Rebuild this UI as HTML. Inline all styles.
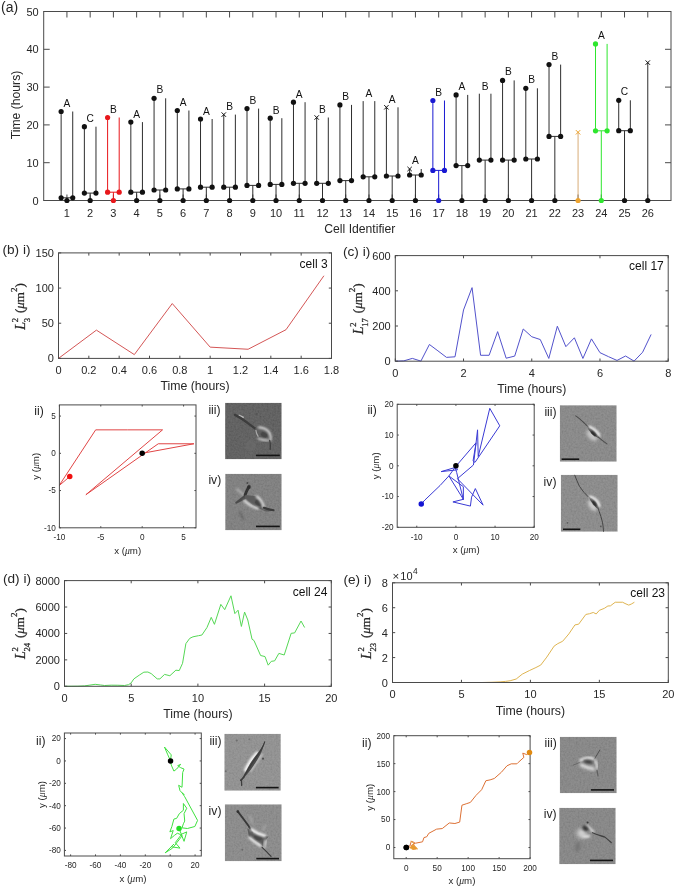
<!DOCTYPE html>
<html><head><meta charset="utf-8"><title>figure</title><style>html,body{margin:0;padding:0;background:#fff;width:675px;height:887px;overflow:hidden;}svg{display:block;will-change:transform;}</style></head><body>
<svg width="675" height="887" viewBox="0 0 675 887">
<defs><filter id="b1" x="-50%" y="-50%" width="200%" height="200%"><feGaussianBlur stdDeviation="0.9"/></filter><filter id="b05" x="-50%" y="-50%" width="200%" height="200%"><feGaussianBlur stdDeviation="0.6"/></filter><filter id="b15" x="-50%" y="-50%" width="200%" height="200%"><feGaussianBlur stdDeviation="1.4"/></filter><filter id="b2" x="-50%" y="-50%" width="200%" height="200%"><feGaussianBlur stdDeviation="2.0"/></filter><filter id="noise" x="0" y="0" width="100%" height="100%"><feTurbulence type="fractalNoise" baseFrequency="0.55" numOctaves="2" seed="3"/><feColorMatrix type="matrix" values="1 0 0 0 0  1 0 0 0 0  1 0 0 0 0  0 0 0 0 1"/></filter></defs>
<rect width="675" height="887" fill="#ffffff"/>
<text x="1" y="11.8" font-size="14" text-anchor="start" font-family='"Liberation Sans", sans-serif' fill="#262626" >(a)</text>
<line x1="66.93" y1="200.5" x2="66.93" y2="194.5" stroke="#4a4a4a" stroke-width="1.0" />
<line x1="66.93" y1="11.5" x2="66.93" y2="17.5" stroke="#4a4a4a" stroke-width="1.0" />
<line x1="90.17" y1="200.5" x2="90.17" y2="194.5" stroke="#4a4a4a" stroke-width="1.0" />
<line x1="90.17" y1="11.5" x2="90.17" y2="17.5" stroke="#4a4a4a" stroke-width="1.0" />
<line x1="113.4" y1="200.5" x2="113.4" y2="194.5" stroke="#4a4a4a" stroke-width="1.0" />
<line x1="113.4" y1="11.5" x2="113.4" y2="17.5" stroke="#4a4a4a" stroke-width="1.0" />
<line x1="136.63" y1="200.5" x2="136.63" y2="194.5" stroke="#4a4a4a" stroke-width="1.0" />
<line x1="136.63" y1="11.5" x2="136.63" y2="17.5" stroke="#4a4a4a" stroke-width="1.0" />
<line x1="159.87" y1="200.5" x2="159.87" y2="194.5" stroke="#4a4a4a" stroke-width="1.0" />
<line x1="159.87" y1="11.5" x2="159.87" y2="17.5" stroke="#4a4a4a" stroke-width="1.0" />
<line x1="183.1" y1="200.5" x2="183.1" y2="194.5" stroke="#4a4a4a" stroke-width="1.0" />
<line x1="183.1" y1="11.5" x2="183.1" y2="17.5" stroke="#4a4a4a" stroke-width="1.0" />
<line x1="206.33" y1="200.5" x2="206.33" y2="194.5" stroke="#4a4a4a" stroke-width="1.0" />
<line x1="206.33" y1="11.5" x2="206.33" y2="17.5" stroke="#4a4a4a" stroke-width="1.0" />
<line x1="229.57" y1="200.5" x2="229.57" y2="194.5" stroke="#4a4a4a" stroke-width="1.0" />
<line x1="229.57" y1="11.5" x2="229.57" y2="17.5" stroke="#4a4a4a" stroke-width="1.0" />
<line x1="252.8" y1="200.5" x2="252.8" y2="194.5" stroke="#4a4a4a" stroke-width="1.0" />
<line x1="252.8" y1="11.5" x2="252.8" y2="17.5" stroke="#4a4a4a" stroke-width="1.0" />
<line x1="276.03" y1="200.5" x2="276.03" y2="194.5" stroke="#4a4a4a" stroke-width="1.0" />
<line x1="276.03" y1="11.5" x2="276.03" y2="17.5" stroke="#4a4a4a" stroke-width="1.0" />
<line x1="299.27" y1="200.5" x2="299.27" y2="194.5" stroke="#4a4a4a" stroke-width="1.0" />
<line x1="299.27" y1="11.5" x2="299.27" y2="17.5" stroke="#4a4a4a" stroke-width="1.0" />
<line x1="322.5" y1="200.5" x2="322.5" y2="194.5" stroke="#4a4a4a" stroke-width="1.0" />
<line x1="322.5" y1="11.5" x2="322.5" y2="17.5" stroke="#4a4a4a" stroke-width="1.0" />
<line x1="345.73" y1="200.5" x2="345.73" y2="194.5" stroke="#4a4a4a" stroke-width="1.0" />
<line x1="345.73" y1="11.5" x2="345.73" y2="17.5" stroke="#4a4a4a" stroke-width="1.0" />
<line x1="368.97" y1="200.5" x2="368.97" y2="194.5" stroke="#4a4a4a" stroke-width="1.0" />
<line x1="368.97" y1="11.5" x2="368.97" y2="17.5" stroke="#4a4a4a" stroke-width="1.0" />
<line x1="392.2" y1="200.5" x2="392.2" y2="194.5" stroke="#4a4a4a" stroke-width="1.0" />
<line x1="392.2" y1="11.5" x2="392.2" y2="17.5" stroke="#4a4a4a" stroke-width="1.0" />
<line x1="415.43" y1="200.5" x2="415.43" y2="194.5" stroke="#4a4a4a" stroke-width="1.0" />
<line x1="415.43" y1="11.5" x2="415.43" y2="17.5" stroke="#4a4a4a" stroke-width="1.0" />
<line x1="438.67" y1="200.5" x2="438.67" y2="194.5" stroke="#4a4a4a" stroke-width="1.0" />
<line x1="438.67" y1="11.5" x2="438.67" y2="17.5" stroke="#4a4a4a" stroke-width="1.0" />
<line x1="461.9" y1="200.5" x2="461.9" y2="194.5" stroke="#4a4a4a" stroke-width="1.0" />
<line x1="461.9" y1="11.5" x2="461.9" y2="17.5" stroke="#4a4a4a" stroke-width="1.0" />
<line x1="485.13" y1="200.5" x2="485.13" y2="194.5" stroke="#4a4a4a" stroke-width="1.0" />
<line x1="485.13" y1="11.5" x2="485.13" y2="17.5" stroke="#4a4a4a" stroke-width="1.0" />
<line x1="508.37" y1="200.5" x2="508.37" y2="194.5" stroke="#4a4a4a" stroke-width="1.0" />
<line x1="508.37" y1="11.5" x2="508.37" y2="17.5" stroke="#4a4a4a" stroke-width="1.0" />
<line x1="531.6" y1="200.5" x2="531.6" y2="194.5" stroke="#4a4a4a" stroke-width="1.0" />
<line x1="531.6" y1="11.5" x2="531.6" y2="17.5" stroke="#4a4a4a" stroke-width="1.0" />
<line x1="554.83" y1="200.5" x2="554.83" y2="194.5" stroke="#4a4a4a" stroke-width="1.0" />
<line x1="554.83" y1="11.5" x2="554.83" y2="17.5" stroke="#4a4a4a" stroke-width="1.0" />
<line x1="578.07" y1="200.5" x2="578.07" y2="194.5" stroke="#4a4a4a" stroke-width="1.0" />
<line x1="578.07" y1="11.5" x2="578.07" y2="17.5" stroke="#4a4a4a" stroke-width="1.0" />
<line x1="601.3" y1="200.5" x2="601.3" y2="194.5" stroke="#4a4a4a" stroke-width="1.0" />
<line x1="601.3" y1="11.5" x2="601.3" y2="17.5" stroke="#4a4a4a" stroke-width="1.0" />
<line x1="624.53" y1="200.5" x2="624.53" y2="194.5" stroke="#4a4a4a" stroke-width="1.0" />
<line x1="624.53" y1="11.5" x2="624.53" y2="17.5" stroke="#4a4a4a" stroke-width="1.0" />
<line x1="647.77" y1="200.5" x2="647.77" y2="194.5" stroke="#4a4a4a" stroke-width="1.0" />
<line x1="647.77" y1="11.5" x2="647.77" y2="17.5" stroke="#4a4a4a" stroke-width="1.0" />
<line x1="43.7" y1="200.5" x2="49.7" y2="200.5" stroke="#4a4a4a" stroke-width="1.0" />
<line x1="671" y1="200.5" x2="665" y2="200.5" stroke="#4a4a4a" stroke-width="1.0" />
<line x1="43.7" y1="162.7" x2="49.7" y2="162.7" stroke="#4a4a4a" stroke-width="1.0" />
<line x1="671" y1="162.7" x2="665" y2="162.7" stroke="#4a4a4a" stroke-width="1.0" />
<line x1="43.7" y1="124.9" x2="49.7" y2="124.9" stroke="#4a4a4a" stroke-width="1.0" />
<line x1="671" y1="124.9" x2="665" y2="124.9" stroke="#4a4a4a" stroke-width="1.0" />
<line x1="43.7" y1="87.1" x2="49.7" y2="87.1" stroke="#4a4a4a" stroke-width="1.0" />
<line x1="671" y1="87.1" x2="665" y2="87.1" stroke="#4a4a4a" stroke-width="1.0" />
<line x1="43.7" y1="49.3" x2="49.7" y2="49.3" stroke="#4a4a4a" stroke-width="1.0" />
<line x1="671" y1="49.3" x2="665" y2="49.3" stroke="#4a4a4a" stroke-width="1.0" />
<line x1="43.7" y1="11.5" x2="49.7" y2="11.5" stroke="#4a4a4a" stroke-width="1.0" />
<line x1="671" y1="11.5" x2="665" y2="11.5" stroke="#4a4a4a" stroke-width="1.0" />
<rect x="43.7" y="11.5" width="627.3" height="189" fill="none" stroke="#4a4a4a" stroke-width="1.0"/>
<text x="66.93" y="216.6" font-size="11" text-anchor="middle" font-family='"Liberation Sans", sans-serif' fill="#262626" >1</text>
<text x="90.17" y="216.6" font-size="11" text-anchor="middle" font-family='"Liberation Sans", sans-serif' fill="#262626" >2</text>
<text x="113.4" y="216.6" font-size="11" text-anchor="middle" font-family='"Liberation Sans", sans-serif' fill="#262626" >3</text>
<text x="136.63" y="216.6" font-size="11" text-anchor="middle" font-family='"Liberation Sans", sans-serif' fill="#262626" >4</text>
<text x="159.87" y="216.6" font-size="11" text-anchor="middle" font-family='"Liberation Sans", sans-serif' fill="#262626" >5</text>
<text x="183.1" y="216.6" font-size="11" text-anchor="middle" font-family='"Liberation Sans", sans-serif' fill="#262626" >6</text>
<text x="206.33" y="216.6" font-size="11" text-anchor="middle" font-family='"Liberation Sans", sans-serif' fill="#262626" >7</text>
<text x="229.57" y="216.6" font-size="11" text-anchor="middle" font-family='"Liberation Sans", sans-serif' fill="#262626" >8</text>
<text x="252.8" y="216.6" font-size="11" text-anchor="middle" font-family='"Liberation Sans", sans-serif' fill="#262626" >9</text>
<text x="276.03" y="216.6" font-size="11" text-anchor="middle" font-family='"Liberation Sans", sans-serif' fill="#262626" >10</text>
<text x="299.27" y="216.6" font-size="11" text-anchor="middle" font-family='"Liberation Sans", sans-serif' fill="#262626" >11</text>
<text x="322.5" y="216.6" font-size="11" text-anchor="middle" font-family='"Liberation Sans", sans-serif' fill="#262626" >12</text>
<text x="345.73" y="216.6" font-size="11" text-anchor="middle" font-family='"Liberation Sans", sans-serif' fill="#262626" >13</text>
<text x="368.97" y="216.6" font-size="11" text-anchor="middle" font-family='"Liberation Sans", sans-serif' fill="#262626" >14</text>
<text x="392.2" y="216.6" font-size="11" text-anchor="middle" font-family='"Liberation Sans", sans-serif' fill="#262626" >15</text>
<text x="415.43" y="216.6" font-size="11" text-anchor="middle" font-family='"Liberation Sans", sans-serif' fill="#262626" >16</text>
<text x="438.67" y="216.6" font-size="11" text-anchor="middle" font-family='"Liberation Sans", sans-serif' fill="#262626" >17</text>
<text x="461.9" y="216.6" font-size="11" text-anchor="middle" font-family='"Liberation Sans", sans-serif' fill="#262626" >18</text>
<text x="485.13" y="216.6" font-size="11" text-anchor="middle" font-family='"Liberation Sans", sans-serif' fill="#262626" >19</text>
<text x="508.37" y="216.6" font-size="11" text-anchor="middle" font-family='"Liberation Sans", sans-serif' fill="#262626" >20</text>
<text x="531.6" y="216.6" font-size="11" text-anchor="middle" font-family='"Liberation Sans", sans-serif' fill="#262626" >21</text>
<text x="554.83" y="216.6" font-size="11" text-anchor="middle" font-family='"Liberation Sans", sans-serif' fill="#262626" >22</text>
<text x="578.07" y="216.6" font-size="11" text-anchor="middle" font-family='"Liberation Sans", sans-serif' fill="#262626" >23</text>
<text x="601.3" y="216.6" font-size="11" text-anchor="middle" font-family='"Liberation Sans", sans-serif' fill="#262626" >24</text>
<text x="624.53" y="216.6" font-size="11" text-anchor="middle" font-family='"Liberation Sans", sans-serif' fill="#262626" >25</text>
<text x="647.77" y="216.6" font-size="11" text-anchor="middle" font-family='"Liberation Sans", sans-serif' fill="#262626" >26</text>
<text x="38.7" y="204.5" font-size="11" text-anchor="end" font-family='"Liberation Sans", sans-serif' fill="#262626" >0</text>
<text x="38.7" y="166.7" font-size="11" text-anchor="end" font-family='"Liberation Sans", sans-serif' fill="#262626" >10</text>
<text x="38.7" y="128.9" font-size="11" text-anchor="end" font-family='"Liberation Sans", sans-serif' fill="#262626" >20</text>
<text x="38.7" y="91.1" font-size="11" text-anchor="end" font-family='"Liberation Sans", sans-serif' fill="#262626" >30</text>
<text x="38.7" y="53.3" font-size="11" text-anchor="end" font-family='"Liberation Sans", sans-serif' fill="#262626" >40</text>
<text x="38.7" y="15.5" font-size="11" text-anchor="end" font-family='"Liberation Sans", sans-serif' fill="#262626" >50</text>
<text x="359.85" y="232.8" font-size="12.2" text-anchor="middle" font-family='"Liberation Sans", sans-serif' fill="#262626" >Cell Identifier</text>
<text transform="translate(19.8,105) rotate(-90)" x="0" y="0" font-size="12.2" text-anchor="middle" font-family='"Liberation Sans", sans-serif' fill="#262626">Time (hours)</text>
<line x1="66.93" y1="200.5" x2="66.93" y2="197.8" stroke="#2e2e2e" stroke-width="1.0" />
<line x1="61.13" y1="197.8" x2="72.73" y2="197.8" stroke="#2e2e2e" stroke-width="1.0" />
<line x1="61.13" y1="197.8" x2="61.13" y2="111.5" stroke="#2e2e2e" stroke-width="1.0" />
<line x1="72.73" y1="197.8" x2="72.73" y2="111.5" stroke="#2e2e2e" stroke-width="1.0" />
<circle cx="66.93" cy="200.5" r="2.6" fill="#111111"/>
<circle cx="61.13" cy="197.8" r="2.6" fill="#111111"/>
<circle cx="72.73" cy="197.8" r="2.6" fill="#111111"/>
<circle cx="61.13" cy="111.5" r="2.6" fill="#111111"/>
<text x="66.93" y="107" font-size="10.2" text-anchor="middle" font-family='"Liberation Sans", sans-serif' fill="#111111" >A</text>
<line x1="90.17" y1="200.5" x2="90.17" y2="193.1" stroke="#2e2e2e" stroke-width="1.0" />
<line x1="84.37" y1="193.1" x2="95.97" y2="193.1" stroke="#2e2e2e" stroke-width="1.0" />
<line x1="84.37" y1="193.1" x2="84.37" y2="126.7" stroke="#2e2e2e" stroke-width="1.0" />
<line x1="95.97" y1="193.1" x2="95.97" y2="126.7" stroke="#2e2e2e" stroke-width="1.0" />
<circle cx="90.17" cy="200.5" r="2.6" fill="#111111"/>
<circle cx="84.37" cy="193.1" r="2.6" fill="#111111"/>
<circle cx="95.97" cy="193.1" r="2.6" fill="#111111"/>
<circle cx="84.37" cy="126.7" r="2.6" fill="#111111"/>
<text x="90.17" y="121.8" font-size="10.2" text-anchor="middle" font-family='"Liberation Sans", sans-serif' fill="#111111" >C</text>
<line x1="113.4" y1="200.5" x2="113.4" y2="192.2" stroke="#e8171b" stroke-width="1.0" />
<line x1="107.6" y1="192.2" x2="119.2" y2="192.2" stroke="#e8171b" stroke-width="1.0" />
<line x1="107.6" y1="192.2" x2="107.6" y2="117.5" stroke="#e8171b" stroke-width="1.0" />
<line x1="119.2" y1="192.2" x2="119.2" y2="117.5" stroke="#e8171b" stroke-width="1.0" />
<circle cx="113.4" cy="200.5" r="2.6" fill="#e8171b"/>
<circle cx="107.6" cy="192.2" r="2.6" fill="#e8171b"/>
<circle cx="119.2" cy="192.2" r="2.6" fill="#e8171b"/>
<circle cx="107.6" cy="117.5" r="2.6" fill="#e8171b"/>
<text x="113.4" y="112.8" font-size="10.2" text-anchor="middle" font-family='"Liberation Sans", sans-serif' fill="#111111" >B</text>
<line x1="136.63" y1="200.5" x2="136.63" y2="192.2" stroke="#2e2e2e" stroke-width="1.0" />
<line x1="130.83" y1="192.2" x2="142.43" y2="192.2" stroke="#2e2e2e" stroke-width="1.0" />
<line x1="130.83" y1="192.2" x2="130.83" y2="122.1" stroke="#2e2e2e" stroke-width="1.0" />
<line x1="142.43" y1="192.2" x2="142.43" y2="122.1" stroke="#2e2e2e" stroke-width="1.0" />
<circle cx="136.63" cy="200.5" r="2.6" fill="#111111"/>
<circle cx="130.83" cy="192.2" r="2.6" fill="#111111"/>
<circle cx="142.43" cy="192.2" r="2.6" fill="#111111"/>
<circle cx="130.83" cy="122.1" r="2.6" fill="#111111"/>
<text x="136.63" y="117.6" font-size="10.2" text-anchor="middle" font-family='"Liberation Sans", sans-serif' fill="#111111" >A</text>
<line x1="159.87" y1="200.5" x2="159.87" y2="190" stroke="#2e2e2e" stroke-width="1.0" />
<line x1="154.07" y1="190" x2="165.67" y2="190" stroke="#2e2e2e" stroke-width="1.0" />
<line x1="154.07" y1="190" x2="154.07" y2="98.3" stroke="#2e2e2e" stroke-width="1.0" />
<line x1="165.67" y1="190" x2="165.67" y2="98.3" stroke="#2e2e2e" stroke-width="1.0" />
<circle cx="159.87" cy="200.5" r="2.6" fill="#111111"/>
<circle cx="154.07" cy="190" r="2.6" fill="#111111"/>
<circle cx="165.67" cy="190" r="2.6" fill="#111111"/>
<circle cx="154.07" cy="98.3" r="2.6" fill="#111111"/>
<text x="159.87" y="93" font-size="10.2" text-anchor="middle" font-family='"Liberation Sans", sans-serif' fill="#111111" >B</text>
<line x1="183.1" y1="200.5" x2="183.1" y2="188.9" stroke="#2e2e2e" stroke-width="1.0" />
<line x1="177.3" y1="188.9" x2="188.9" y2="188.9" stroke="#2e2e2e" stroke-width="1.0" />
<line x1="177.3" y1="188.9" x2="177.3" y2="110.5" stroke="#2e2e2e" stroke-width="1.0" />
<line x1="188.9" y1="188.9" x2="188.9" y2="110.5" stroke="#2e2e2e" stroke-width="1.0" />
<circle cx="183.1" cy="200.5" r="2.6" fill="#111111"/>
<circle cx="177.3" cy="188.9" r="2.6" fill="#111111"/>
<circle cx="188.9" cy="188.9" r="2.6" fill="#111111"/>
<circle cx="177.3" cy="110.5" r="2.6" fill="#111111"/>
<text x="183.1" y="105.8" font-size="10.2" text-anchor="middle" font-family='"Liberation Sans", sans-serif' fill="#111111" >A</text>
<line x1="206.33" y1="200.5" x2="206.33" y2="187.2" stroke="#2e2e2e" stroke-width="1.0" />
<line x1="200.53" y1="187.2" x2="212.13" y2="187.2" stroke="#2e2e2e" stroke-width="1.0" />
<line x1="200.53" y1="187.2" x2="200.53" y2="119" stroke="#2e2e2e" stroke-width="1.0" />
<line x1="212.13" y1="187.2" x2="212.13" y2="119" stroke="#2e2e2e" stroke-width="1.0" />
<circle cx="206.33" cy="200.5" r="2.6" fill="#111111"/>
<circle cx="200.53" cy="187.2" r="2.6" fill="#111111"/>
<circle cx="212.13" cy="187.2" r="2.6" fill="#111111"/>
<circle cx="200.53" cy="119" r="2.6" fill="#111111"/>
<text x="206.33" y="114.8" font-size="10.2" text-anchor="middle" font-family='"Liberation Sans", sans-serif' fill="#111111" >A</text>
<line x1="229.57" y1="200.5" x2="229.57" y2="187.2" stroke="#2e2e2e" stroke-width="1.0" />
<line x1="223.77" y1="187.2" x2="235.37" y2="187.2" stroke="#2e2e2e" stroke-width="1.0" />
<line x1="223.77" y1="187.2" x2="223.77" y2="114.6" stroke="#2e2e2e" stroke-width="1.0" />
<line x1="235.37" y1="187.2" x2="235.37" y2="114.6" stroke="#2e2e2e" stroke-width="1.0" />
<circle cx="229.57" cy="200.5" r="2.6" fill="#111111"/>
<circle cx="223.77" cy="187.2" r="2.6" fill="#111111"/>
<circle cx="235.37" cy="187.2" r="2.6" fill="#111111"/>
<line x1="221.57" y1="112.4" x2="225.97" y2="116.8" stroke="#111111" stroke-width="1.0" />
<line x1="221.57" y1="116.8" x2="225.97" y2="112.4" stroke="#111111" stroke-width="1.0" />
<text x="229.57" y="110" font-size="10.2" text-anchor="middle" font-family='"Liberation Sans", sans-serif' fill="#111111" >B</text>
<line x1="252.8" y1="200.5" x2="252.8" y2="185.4" stroke="#2e2e2e" stroke-width="1.0" />
<line x1="247" y1="185.4" x2="258.6" y2="185.4" stroke="#2e2e2e" stroke-width="1.0" />
<line x1="247" y1="185.4" x2="247" y2="108.6" stroke="#2e2e2e" stroke-width="1.0" />
<line x1="258.6" y1="185.4" x2="258.6" y2="108.6" stroke="#2e2e2e" stroke-width="1.0" />
<circle cx="252.8" cy="200.5" r="2.6" fill="#111111"/>
<circle cx="247" cy="185.4" r="2.6" fill="#111111"/>
<circle cx="258.6" cy="185.4" r="2.6" fill="#111111"/>
<circle cx="247" cy="108.6" r="2.6" fill="#111111"/>
<text x="252.8" y="104" font-size="10.2" text-anchor="middle" font-family='"Liberation Sans", sans-serif' fill="#111111" >B</text>
<line x1="276.03" y1="200.5" x2="276.03" y2="184.4" stroke="#2e2e2e" stroke-width="1.0" />
<line x1="270.23" y1="184.4" x2="281.83" y2="184.4" stroke="#2e2e2e" stroke-width="1.0" />
<line x1="270.23" y1="184.4" x2="270.23" y2="118.2" stroke="#2e2e2e" stroke-width="1.0" />
<line x1="281.83" y1="184.4" x2="281.83" y2="118.2" stroke="#2e2e2e" stroke-width="1.0" />
<circle cx="276.03" cy="200.5" r="2.6" fill="#111111"/>
<circle cx="270.23" cy="184.4" r="2.6" fill="#111111"/>
<circle cx="281.83" cy="184.4" r="2.6" fill="#111111"/>
<circle cx="270.23" cy="118.2" r="2.6" fill="#111111"/>
<text x="276.03" y="113.6" font-size="10.2" text-anchor="middle" font-family='"Liberation Sans", sans-serif' fill="#111111" >B</text>
<line x1="299.27" y1="200.5" x2="299.27" y2="183.3" stroke="#2e2e2e" stroke-width="1.0" />
<line x1="293.47" y1="183.3" x2="305.07" y2="183.3" stroke="#2e2e2e" stroke-width="1.0" />
<line x1="293.47" y1="183.3" x2="293.47" y2="102.2" stroke="#2e2e2e" stroke-width="1.0" />
<line x1="305.07" y1="183.3" x2="305.07" y2="102.2" stroke="#2e2e2e" stroke-width="1.0" />
<circle cx="299.27" cy="200.5" r="2.6" fill="#111111"/>
<circle cx="293.47" cy="183.3" r="2.6" fill="#111111"/>
<circle cx="305.07" cy="183.3" r="2.6" fill="#111111"/>
<circle cx="293.47" cy="102.2" r="2.6" fill="#111111"/>
<text x="299.27" y="97.6" font-size="10.2" text-anchor="middle" font-family='"Liberation Sans", sans-serif' fill="#111111" >A</text>
<line x1="322.5" y1="200.5" x2="322.5" y2="183.3" stroke="#2e2e2e" stroke-width="1.0" />
<line x1="316.7" y1="183.3" x2="328.3" y2="183.3" stroke="#2e2e2e" stroke-width="1.0" />
<line x1="316.7" y1="183.3" x2="316.7" y2="117.5" stroke="#2e2e2e" stroke-width="1.0" />
<line x1="328.3" y1="183.3" x2="328.3" y2="117.5" stroke="#2e2e2e" stroke-width="1.0" />
<circle cx="322.5" cy="200.5" r="2.6" fill="#111111"/>
<circle cx="316.7" cy="183.3" r="2.6" fill="#111111"/>
<circle cx="328.3" cy="183.3" r="2.6" fill="#111111"/>
<line x1="314.5" y1="115.3" x2="318.9" y2="119.7" stroke="#111111" stroke-width="1.0" />
<line x1="314.5" y1="119.7" x2="318.9" y2="115.3" stroke="#111111" stroke-width="1.0" />
<text x="322.5" y="112.8" font-size="10.2" text-anchor="middle" font-family='"Liberation Sans", sans-serif' fill="#111111" >B</text>
<line x1="345.73" y1="200.5" x2="345.73" y2="180.6" stroke="#2e2e2e" stroke-width="1.0" />
<line x1="339.93" y1="180.6" x2="351.53" y2="180.6" stroke="#2e2e2e" stroke-width="1.0" />
<line x1="339.93" y1="180.6" x2="339.93" y2="104.9" stroke="#2e2e2e" stroke-width="1.0" />
<line x1="351.53" y1="180.6" x2="351.53" y2="104.9" stroke="#2e2e2e" stroke-width="1.0" />
<circle cx="345.73" cy="200.5" r="2.6" fill="#111111"/>
<circle cx="339.93" cy="180.6" r="2.6" fill="#111111"/>
<circle cx="351.53" cy="180.6" r="2.6" fill="#111111"/>
<circle cx="339.93" cy="104.9" r="2.6" fill="#111111"/>
<text x="345.73" y="100.4" font-size="10.2" text-anchor="middle" font-family='"Liberation Sans", sans-serif' fill="#111111" >B</text>
<line x1="368.97" y1="200.5" x2="368.97" y2="176.8" stroke="#2e2e2e" stroke-width="1.0" />
<line x1="363.17" y1="176.8" x2="374.77" y2="176.8" stroke="#2e2e2e" stroke-width="1.0" />
<line x1="363.17" y1="176.8" x2="363.17" y2="101.1" stroke="#2e2e2e" stroke-width="1.0" />
<line x1="374.77" y1="176.8" x2="374.77" y2="101.1" stroke="#2e2e2e" stroke-width="1.0" />
<circle cx="368.97" cy="200.5" r="2.6" fill="#111111"/>
<circle cx="363.17" cy="176.8" r="2.6" fill="#111111"/>
<circle cx="374.77" cy="176.8" r="2.6" fill="#111111"/>
<text x="368.97" y="97" font-size="10.2" text-anchor="middle" font-family='"Liberation Sans", sans-serif' fill="#111111" >A</text>
<line x1="392.2" y1="200.5" x2="392.2" y2="176" stroke="#2e2e2e" stroke-width="1.0" />
<line x1="386.4" y1="176" x2="398" y2="176" stroke="#2e2e2e" stroke-width="1.0" />
<line x1="386.4" y1="176" x2="386.4" y2="107.3" stroke="#2e2e2e" stroke-width="1.0" />
<line x1="398" y1="176" x2="398" y2="107.3" stroke="#2e2e2e" stroke-width="1.0" />
<circle cx="392.2" cy="200.5" r="2.6" fill="#111111"/>
<circle cx="386.4" cy="176" r="2.6" fill="#111111"/>
<circle cx="398" cy="176" r="2.6" fill="#111111"/>
<line x1="384.2" y1="105.1" x2="388.6" y2="109.5" stroke="#111111" stroke-width="1.0" />
<line x1="384.2" y1="109.5" x2="388.6" y2="105.1" stroke="#111111" stroke-width="1.0" />
<text x="392.2" y="102.6" font-size="10.2" text-anchor="middle" font-family='"Liberation Sans", sans-serif' fill="#111111" >A</text>
<line x1="415.43" y1="200.5" x2="415.43" y2="175" stroke="#2e2e2e" stroke-width="1.0" />
<line x1="409.63" y1="175" x2="421.23" y2="175" stroke="#2e2e2e" stroke-width="1.0" />
<line x1="409.63" y1="175" x2="409.63" y2="169" stroke="#2e2e2e" stroke-width="1.0" />
<line x1="421.23" y1="175" x2="421.23" y2="169" stroke="#2e2e2e" stroke-width="1.0" />
<circle cx="415.43" cy="200.5" r="2.6" fill="#111111"/>
<circle cx="409.63" cy="175" r="2.6" fill="#111111"/>
<circle cx="421.23" cy="175" r="2.6" fill="#111111"/>
<line x1="407.43" y1="166.8" x2="411.83" y2="171.2" stroke="#111111" stroke-width="1.0" />
<line x1="407.43" y1="171.2" x2="411.83" y2="166.8" stroke="#111111" stroke-width="1.0" />
<text x="415.43" y="164" font-size="10.2" text-anchor="middle" font-family='"Liberation Sans", sans-serif' fill="#111111" >A</text>
<line x1="438.67" y1="200.5" x2="438.67" y2="170.4" stroke="#1919d2" stroke-width="1.0" />
<line x1="432.87" y1="170.4" x2="444.47" y2="170.4" stroke="#1919d2" stroke-width="1.0" />
<line x1="432.87" y1="170.4" x2="432.87" y2="100.5" stroke="#1919d2" stroke-width="1.0" />
<line x1="444.47" y1="170.4" x2="444.47" y2="100.5" stroke="#1919d2" stroke-width="1.0" />
<circle cx="438.67" cy="200.5" r="2.6" fill="#1919d2"/>
<circle cx="432.87" cy="170.4" r="2.6" fill="#1919d2"/>
<circle cx="444.47" cy="170.4" r="2.6" fill="#1919d2"/>
<circle cx="432.87" cy="100.5" r="2.6" fill="#1919d2"/>
<text x="438.67" y="95.8" font-size="10.2" text-anchor="middle" font-family='"Liberation Sans", sans-serif' fill="#111111" >B</text>
<line x1="461.9" y1="200.5" x2="461.9" y2="165.6" stroke="#2e2e2e" stroke-width="1.0" />
<line x1="456.1" y1="165.6" x2="467.7" y2="165.6" stroke="#2e2e2e" stroke-width="1.0" />
<line x1="456.1" y1="165.6" x2="456.1" y2="94.9" stroke="#2e2e2e" stroke-width="1.0" />
<line x1="467.7" y1="165.6" x2="467.7" y2="94.9" stroke="#2e2e2e" stroke-width="1.0" />
<circle cx="461.9" cy="200.5" r="2.6" fill="#111111"/>
<circle cx="456.1" cy="165.6" r="2.6" fill="#111111"/>
<circle cx="467.7" cy="165.6" r="2.6" fill="#111111"/>
<circle cx="456.1" cy="94.9" r="2.6" fill="#111111"/>
<text x="461.9" y="90.2" font-size="10.2" text-anchor="middle" font-family='"Liberation Sans", sans-serif' fill="#111111" >A</text>
<line x1="485.13" y1="200.5" x2="485.13" y2="160.1" stroke="#2e2e2e" stroke-width="1.0" />
<line x1="479.33" y1="160.1" x2="490.93" y2="160.1" stroke="#2e2e2e" stroke-width="1.0" />
<line x1="479.33" y1="160.1" x2="479.33" y2="93.7" stroke="#2e2e2e" stroke-width="1.0" />
<line x1="490.93" y1="160.1" x2="490.93" y2="93.7" stroke="#2e2e2e" stroke-width="1.0" />
<circle cx="485.13" cy="200.5" r="2.6" fill="#111111"/>
<circle cx="479.33" cy="160.1" r="2.6" fill="#111111"/>
<circle cx="490.93" cy="160.1" r="2.6" fill="#111111"/>
<text x="485.13" y="89.6" font-size="10.2" text-anchor="middle" font-family='"Liberation Sans", sans-serif' fill="#111111" >B</text>
<line x1="508.37" y1="200.5" x2="508.37" y2="160.1" stroke="#2e2e2e" stroke-width="1.0" />
<line x1="502.57" y1="160.1" x2="514.17" y2="160.1" stroke="#2e2e2e" stroke-width="1.0" />
<line x1="502.57" y1="160.1" x2="502.57" y2="80.4" stroke="#2e2e2e" stroke-width="1.0" />
<line x1="514.17" y1="160.1" x2="514.17" y2="80.4" stroke="#2e2e2e" stroke-width="1.0" />
<circle cx="508.37" cy="200.5" r="2.6" fill="#111111"/>
<circle cx="502.57" cy="160.1" r="2.6" fill="#111111"/>
<circle cx="514.17" cy="160.1" r="2.6" fill="#111111"/>
<circle cx="502.57" cy="80.4" r="2.6" fill="#111111"/>
<text x="508.37" y="75.2" font-size="10.2" text-anchor="middle" font-family='"Liberation Sans", sans-serif' fill="#111111" >B</text>
<line x1="531.6" y1="200.5" x2="531.6" y2="159" stroke="#2e2e2e" stroke-width="1.0" />
<line x1="525.8" y1="159" x2="537.4" y2="159" stroke="#2e2e2e" stroke-width="1.0" />
<line x1="525.8" y1="159" x2="525.8" y2="88.3" stroke="#2e2e2e" stroke-width="1.0" />
<line x1="537.4" y1="159" x2="537.4" y2="88.3" stroke="#2e2e2e" stroke-width="1.0" />
<circle cx="531.6" cy="200.5" r="2.6" fill="#111111"/>
<circle cx="525.8" cy="159" r="2.6" fill="#111111"/>
<circle cx="537.4" cy="159" r="2.6" fill="#111111"/>
<circle cx="525.8" cy="88.3" r="2.6" fill="#111111"/>
<text x="531.6" y="83" font-size="10.2" text-anchor="middle" font-family='"Liberation Sans", sans-serif' fill="#111111" >B</text>
<line x1="554.83" y1="200.5" x2="554.83" y2="136.4" stroke="#2e2e2e" stroke-width="1.0" />
<line x1="549.03" y1="136.4" x2="560.63" y2="136.4" stroke="#2e2e2e" stroke-width="1.0" />
<line x1="549.03" y1="136.4" x2="549.03" y2="64.6" stroke="#2e2e2e" stroke-width="1.0" />
<line x1="560.63" y1="136.4" x2="560.63" y2="64.6" stroke="#2e2e2e" stroke-width="1.0" />
<circle cx="554.83" cy="200.5" r="2.6" fill="#111111"/>
<circle cx="549.03" cy="136.4" r="2.6" fill="#111111"/>
<circle cx="560.63" cy="136.4" r="2.6" fill="#111111"/>
<circle cx="549.03" cy="64.6" r="2.6" fill="#111111"/>
<text x="554.83" y="59.6" font-size="10.2" text-anchor="middle" font-family='"Liberation Sans", sans-serif' fill="#111111" >B</text>
<line x1="578.07" y1="200.5" x2="578.07" y2="132.3" stroke="#d8ac78" stroke-width="1.0" />
<line x1="575.87" y1="130.1" x2="580.27" y2="134.5" stroke="#eda32e" stroke-width="1.0" />
<line x1="575.87" y1="134.5" x2="580.27" y2="130.1" stroke="#eda32e" stroke-width="1.0" />
<circle cx="578.07" cy="200.5" r="2.6" fill="#eda32e"/>
<line x1="601.3" y1="200.5" x2="601.3" y2="130.8" stroke="#2ee62e" stroke-width="1.0" />
<line x1="595.5" y1="130.8" x2="607.1" y2="130.8" stroke="#2ee62e" stroke-width="1.0" />
<line x1="595.5" y1="130.8" x2="595.5" y2="43.9" stroke="#2ee62e" stroke-width="1.0" />
<line x1="607.1" y1="130.8" x2="607.1" y2="43.9" stroke="#2ee62e" stroke-width="1.0" />
<circle cx="601.3" cy="200.5" r="2.6" fill="#2ee62e"/>
<circle cx="595.5" cy="130.8" r="2.6" fill="#2ee62e"/>
<circle cx="607.1" cy="130.8" r="2.6" fill="#2ee62e"/>
<circle cx="595.5" cy="43.9" r="2.6" fill="#2ee62e"/>
<text x="601.3" y="38.6" font-size="10.2" text-anchor="middle" font-family='"Liberation Sans", sans-serif' fill="#111111" >A</text>
<line x1="624.53" y1="200.5" x2="624.53" y2="130.7" stroke="#2e2e2e" stroke-width="1.0" />
<line x1="618.73" y1="130.7" x2="630.33" y2="130.7" stroke="#2e2e2e" stroke-width="1.0" />
<line x1="618.73" y1="130.7" x2="618.73" y2="100.3" stroke="#2e2e2e" stroke-width="1.0" />
<line x1="630.33" y1="130.7" x2="630.33" y2="100.3" stroke="#2e2e2e" stroke-width="1.0" />
<circle cx="624.53" cy="200.5" r="2.6" fill="#111111"/>
<circle cx="618.73" cy="130.7" r="2.6" fill="#111111"/>
<circle cx="630.33" cy="130.7" r="2.6" fill="#111111"/>
<circle cx="618.73" cy="100.3" r="2.6" fill="#111111"/>
<text x="624.53" y="95" font-size="10.2" text-anchor="middle" font-family='"Liberation Sans", sans-serif' fill="#111111" >C</text>
<line x1="647.77" y1="200.5" x2="647.77" y2="62.6" stroke="#2e2e2e" stroke-width="1.0" />
<line x1="645.57" y1="60.4" x2="649.97" y2="64.8" stroke="#111111" stroke-width="1.0" />
<line x1="645.57" y1="64.8" x2="649.97" y2="60.4" stroke="#111111" stroke-width="1.0" />
<circle cx="647.77" cy="200.5" r="2.6" fill="#111111"/>
<text x="2.5" y="254.2" font-size="13.6" text-anchor="start" font-family='"Liberation Sans", sans-serif' fill="#262626" >(b) i)</text>
<polyline points="58.5,358.4 96.42,330.13 134.33,354.6 172.25,303.54 210.17,347.15 248.08,349.26 286,329.7 323.92,275.76" fill="none" stroke="#d45656" stroke-width="1.0" stroke-linejoin="miter" stroke-miterlimit="10" />
<line x1="58.5" y1="358.4" x2="58.5" y2="355.7" stroke="#4a4a4a" stroke-width="1.0" />
<line x1="58.5" y1="252.9" x2="58.5" y2="255.6" stroke="#4a4a4a" stroke-width="1.0" />
<line x1="88.83" y1="358.4" x2="88.83" y2="355.7" stroke="#4a4a4a" stroke-width="1.0" />
<line x1="88.83" y1="252.9" x2="88.83" y2="255.6" stroke="#4a4a4a" stroke-width="1.0" />
<line x1="119.17" y1="358.4" x2="119.17" y2="355.7" stroke="#4a4a4a" stroke-width="1.0" />
<line x1="119.17" y1="252.9" x2="119.17" y2="255.6" stroke="#4a4a4a" stroke-width="1.0" />
<line x1="149.5" y1="358.4" x2="149.5" y2="355.7" stroke="#4a4a4a" stroke-width="1.0" />
<line x1="149.5" y1="252.9" x2="149.5" y2="255.6" stroke="#4a4a4a" stroke-width="1.0" />
<line x1="179.83" y1="358.4" x2="179.83" y2="355.7" stroke="#4a4a4a" stroke-width="1.0" />
<line x1="179.83" y1="252.9" x2="179.83" y2="255.6" stroke="#4a4a4a" stroke-width="1.0" />
<line x1="210.17" y1="358.4" x2="210.17" y2="355.7" stroke="#4a4a4a" stroke-width="1.0" />
<line x1="210.17" y1="252.9" x2="210.17" y2="255.6" stroke="#4a4a4a" stroke-width="1.0" />
<line x1="240.5" y1="358.4" x2="240.5" y2="355.7" stroke="#4a4a4a" stroke-width="1.0" />
<line x1="240.5" y1="252.9" x2="240.5" y2="255.6" stroke="#4a4a4a" stroke-width="1.0" />
<line x1="270.83" y1="358.4" x2="270.83" y2="355.7" stroke="#4a4a4a" stroke-width="1.0" />
<line x1="270.83" y1="252.9" x2="270.83" y2="255.6" stroke="#4a4a4a" stroke-width="1.0" />
<line x1="301.17" y1="358.4" x2="301.17" y2="355.7" stroke="#4a4a4a" stroke-width="1.0" />
<line x1="301.17" y1="252.9" x2="301.17" y2="255.6" stroke="#4a4a4a" stroke-width="1.0" />
<line x1="331.5" y1="358.4" x2="331.5" y2="355.7" stroke="#4a4a4a" stroke-width="1.0" />
<line x1="331.5" y1="252.9" x2="331.5" y2="255.6" stroke="#4a4a4a" stroke-width="1.0" />
<line x1="58.5" y1="358.4" x2="61.2" y2="358.4" stroke="#4a4a4a" stroke-width="1.0" />
<line x1="331.5" y1="358.4" x2="328.8" y2="358.4" stroke="#4a4a4a" stroke-width="1.0" />
<line x1="58.5" y1="323.23" x2="61.2" y2="323.23" stroke="#4a4a4a" stroke-width="1.0" />
<line x1="331.5" y1="323.23" x2="328.8" y2="323.23" stroke="#4a4a4a" stroke-width="1.0" />
<line x1="58.5" y1="288.07" x2="61.2" y2="288.07" stroke="#4a4a4a" stroke-width="1.0" />
<line x1="331.5" y1="288.07" x2="328.8" y2="288.07" stroke="#4a4a4a" stroke-width="1.0" />
<line x1="58.5" y1="252.9" x2="61.2" y2="252.9" stroke="#4a4a4a" stroke-width="1.0" />
<line x1="331.5" y1="252.9" x2="328.8" y2="252.9" stroke="#4a4a4a" stroke-width="1.0" />
<rect x="58.5" y="252.9" width="273" height="105.5" fill="none" stroke="#4a4a4a" stroke-width="1.0"/>
<text x="58.5" y="373.9" font-size="11" text-anchor="middle" font-family='"Liberation Sans", sans-serif' fill="#262626" >0</text>
<text x="88.83" y="373.9" font-size="11" text-anchor="middle" font-family='"Liberation Sans", sans-serif' fill="#262626" >0.2</text>
<text x="119.17" y="373.9" font-size="11" text-anchor="middle" font-family='"Liberation Sans", sans-serif' fill="#262626" >0.4</text>
<text x="149.5" y="373.9" font-size="11" text-anchor="middle" font-family='"Liberation Sans", sans-serif' fill="#262626" >0.6</text>
<text x="179.83" y="373.9" font-size="11" text-anchor="middle" font-family='"Liberation Sans", sans-serif' fill="#262626" >0.8</text>
<text x="210.17" y="373.9" font-size="11" text-anchor="middle" font-family='"Liberation Sans", sans-serif' fill="#262626" >1</text>
<text x="240.5" y="373.9" font-size="11" text-anchor="middle" font-family='"Liberation Sans", sans-serif' fill="#262626" >1.2</text>
<text x="270.83" y="373.9" font-size="11" text-anchor="middle" font-family='"Liberation Sans", sans-serif' fill="#262626" >1.4</text>
<text x="301.17" y="373.9" font-size="11" text-anchor="middle" font-family='"Liberation Sans", sans-serif' fill="#262626" >1.6</text>
<text x="331.5" y="373.9" font-size="11" text-anchor="middle" font-family='"Liberation Sans", sans-serif' fill="#262626" >1.8</text>
<text x="53.9" y="362.4" font-size="11" text-anchor="end" font-family='"Liberation Sans", sans-serif' fill="#262626" >0</text>
<text x="53.9" y="327.23" font-size="11" text-anchor="end" font-family='"Liberation Sans", sans-serif' fill="#262626" >50</text>
<text x="53.9" y="292.07" font-size="11" text-anchor="end" font-family='"Liberation Sans", sans-serif' fill="#262626" >100</text>
<text x="53.9" y="256.9" font-size="11" text-anchor="end" font-family='"Liberation Sans", sans-serif' fill="#262626" >150</text>
<text x="327.6" y="267.6" font-size="12" text-anchor="end" font-family='"Liberation Sans", sans-serif' fill="#111111" >cell 3</text>
<text x="195" y="390.1" font-size="12.3" text-anchor="middle" font-family='"Liberation Sans", sans-serif' fill="#262626" >Time (hours)</text>
<text transform="translate(24.9,329.7) rotate(-90)" font-size="14.0" font-family='"Liberation Serif", serif' font-style="italic" fill="#262626" stroke="#262626" stroke-width="0.25" text-anchor="start">L</text>
<text transform="translate(29.7,322.2) rotate(-90)" font-size="8.6" font-family='"Liberation Serif", serif' fill="#262626" stroke="#262626" stroke-width="0.25" text-anchor="start">3</text>
<text transform="translate(17.9,322.2) rotate(-90)" font-size="8.6" font-family='"Liberation Serif", serif' fill="#262626" stroke="#262626" stroke-width="0.25" text-anchor="start">2</text>
<text transform="translate(23.7,313) rotate(-90)" font-size="13" font-family='"Liberation Serif", serif' fill="#262626" stroke="#262626" stroke-width="0.25" text-anchor="start">(<tspan font-style="italic">&#956;</tspan>m<tspan font-size="9" dy="-6.4">2</tspan><tspan dy="6.4">)</tspan></text>
<text x="343" y="256.2" font-size="13.6" text-anchor="start" font-family='"Liberation Sans", sans-serif' fill="#262626" >(c) i)</text>
<polyline points="395.3,361.2 403.83,360.85 412.36,358.4 420.88,361.11 429.41,344.48 437.94,350.87 446.47,357.36 455,356.8 463.53,309.98 472.05,287.63 480.58,355.29 489.11,355.29 497.64,331.63 506.17,358.21 514.69,356.1 523.22,328.99 531.75,336.74 540.28,339.55 548.81,358.44 557.33,326.23 565.86,346.66 574.39,337.79 582.92,358.44 591.45,338.88 599.98,352.66 608.5,356.66 617.03,360.44 625.56,356.01 634.09,361.11 642.62,352.22 651.14,334.45" fill="none" stroke="#5252cc" stroke-width="1.0" stroke-linejoin="miter" stroke-miterlimit="10" />
<line x1="395.3" y1="361.2" x2="395.3" y2="358.5" stroke="#4a4a4a" stroke-width="1.0" />
<line x1="395.3" y1="255.6" x2="395.3" y2="258.3" stroke="#4a4a4a" stroke-width="1.0" />
<line x1="463.53" y1="361.2" x2="463.53" y2="358.5" stroke="#4a4a4a" stroke-width="1.0" />
<line x1="463.53" y1="255.6" x2="463.53" y2="258.3" stroke="#4a4a4a" stroke-width="1.0" />
<line x1="531.75" y1="361.2" x2="531.75" y2="358.5" stroke="#4a4a4a" stroke-width="1.0" />
<line x1="531.75" y1="255.6" x2="531.75" y2="258.3" stroke="#4a4a4a" stroke-width="1.0" />
<line x1="599.98" y1="361.2" x2="599.98" y2="358.5" stroke="#4a4a4a" stroke-width="1.0" />
<line x1="599.98" y1="255.6" x2="599.98" y2="258.3" stroke="#4a4a4a" stroke-width="1.0" />
<line x1="668.2" y1="361.2" x2="668.2" y2="358.5" stroke="#4a4a4a" stroke-width="1.0" />
<line x1="668.2" y1="255.6" x2="668.2" y2="258.3" stroke="#4a4a4a" stroke-width="1.0" />
<line x1="395.3" y1="361.2" x2="398" y2="361.2" stroke="#4a4a4a" stroke-width="1.0" />
<line x1="668.2" y1="361.2" x2="665.5" y2="361.2" stroke="#4a4a4a" stroke-width="1.0" />
<line x1="395.3" y1="326" x2="398" y2="326" stroke="#4a4a4a" stroke-width="1.0" />
<line x1="668.2" y1="326" x2="665.5" y2="326" stroke="#4a4a4a" stroke-width="1.0" />
<line x1="395.3" y1="290.8" x2="398" y2="290.8" stroke="#4a4a4a" stroke-width="1.0" />
<line x1="668.2" y1="290.8" x2="665.5" y2="290.8" stroke="#4a4a4a" stroke-width="1.0" />
<line x1="395.3" y1="255.6" x2="398" y2="255.6" stroke="#4a4a4a" stroke-width="1.0" />
<line x1="668.2" y1="255.6" x2="665.5" y2="255.6" stroke="#4a4a4a" stroke-width="1.0" />
<rect x="395.3" y="255.6" width="272.9" height="105.6" fill="none" stroke="#4a4a4a" stroke-width="1.0"/>
<text x="395.3" y="376.7" font-size="11" text-anchor="middle" font-family='"Liberation Sans", sans-serif' fill="#262626" >0</text>
<text x="463.53" y="376.7" font-size="11" text-anchor="middle" font-family='"Liberation Sans", sans-serif' fill="#262626" >2</text>
<text x="531.75" y="376.7" font-size="11" text-anchor="middle" font-family='"Liberation Sans", sans-serif' fill="#262626" >4</text>
<text x="599.98" y="376.7" font-size="11" text-anchor="middle" font-family='"Liberation Sans", sans-serif' fill="#262626" >6</text>
<text x="668.2" y="376.7" font-size="11" text-anchor="middle" font-family='"Liberation Sans", sans-serif' fill="#262626" >8</text>
<text x="390.7" y="365.2" font-size="11" text-anchor="end" font-family='"Liberation Sans", sans-serif' fill="#262626" >0</text>
<text x="390.7" y="330" font-size="11" text-anchor="end" font-family='"Liberation Sans", sans-serif' fill="#262626" >200</text>
<text x="390.7" y="294.8" font-size="11" text-anchor="end" font-family='"Liberation Sans", sans-serif' fill="#262626" >400</text>
<text x="390.7" y="259.6" font-size="11" text-anchor="end" font-family='"Liberation Sans", sans-serif' fill="#262626" >600</text>
<text x="663.8" y="269.6" font-size="12" text-anchor="end" font-family='"Liberation Sans", sans-serif' fill="#111111" >cell 17</text>
<text x="531.75" y="392.9" font-size="12.3" text-anchor="middle" font-family='"Liberation Sans", sans-serif' fill="#262626" >Time (hours)</text>
<text transform="translate(362.8,334.2) rotate(-90)" font-size="14.0" font-family='"Liberation Serif", serif' font-style="italic" fill="#262626" stroke="#262626" stroke-width="0.25" text-anchor="start">L</text>
<text transform="translate(367.6,326.7) rotate(-90)" font-size="8.6" font-family='"Liberation Serif", serif' fill="#262626" stroke="#262626" stroke-width="0.25" text-anchor="start">17</text>
<text transform="translate(355.8,326.7) rotate(-90)" font-size="8.6" font-family='"Liberation Serif", serif' fill="#262626" stroke="#262626" stroke-width="0.25" text-anchor="start">2</text>
<text transform="translate(361.6,313.2) rotate(-90)" font-size="13" font-family='"Liberation Serif", serif' fill="#262626" stroke="#262626" stroke-width="0.25" text-anchor="start">(<tspan font-style="italic">&#956;</tspan>m<tspan font-size="9" dy="-6.4">2</tspan><tspan dy="6.4">)</tspan></text>
<text x="3" y="582.8" font-size="13.6" text-anchor="start" font-family='"Liberation Sans", sans-serif' fill="#262626" >(d) i)</text>
<polyline points="64.5,686.3 71.17,686.25 77.84,686.19 84.51,685.9 89.85,685.11 95.18,684.32 100.52,684.98 104.52,685.51 111.19,685.18 117.86,685.24 124.53,685.51 128.53,684.71 131.2,682.86 133.87,678.9 139.2,675.2 143.87,672.16 147.88,672.03 151.21,673.62 157.21,678.9 159.88,678.9 164.55,674.41 169.89,675.73 175.89,670.18 179.22,670.58 182.56,663.31 185.89,643.62 189.76,638.34 192.96,636.82 198.43,635.7 201.9,635.04 206.97,627.5 211.24,617.33 214.44,624.33 220.84,604.38 224.71,609.67 230.98,595.79 234.85,613.63 238.05,610.2 241.39,626.45 244.59,612.05 247.79,619.97 252.06,639.26 253.93,640.45 260.6,655.51 265,656.57 268.2,665.16 271.27,661.33 274.61,660.87 278.87,653.4 284.21,654.99 291.15,633.32 294.62,632.92 301.02,621.03 304.62,627.5" fill="none" stroke="#55d855" stroke-width="1.0" stroke-linejoin="miter" stroke-miterlimit="10" />
<line x1="64.5" y1="686.3" x2="64.5" y2="683.6" stroke="#4a4a4a" stroke-width="1.0" />
<line x1="64.5" y1="580.6" x2="64.5" y2="583.3" stroke="#4a4a4a" stroke-width="1.0" />
<line x1="131.2" y1="686.3" x2="131.2" y2="683.6" stroke="#4a4a4a" stroke-width="1.0" />
<line x1="131.2" y1="580.6" x2="131.2" y2="583.3" stroke="#4a4a4a" stroke-width="1.0" />
<line x1="197.9" y1="686.3" x2="197.9" y2="683.6" stroke="#4a4a4a" stroke-width="1.0" />
<line x1="197.9" y1="580.6" x2="197.9" y2="583.3" stroke="#4a4a4a" stroke-width="1.0" />
<line x1="264.6" y1="686.3" x2="264.6" y2="683.6" stroke="#4a4a4a" stroke-width="1.0" />
<line x1="264.6" y1="580.6" x2="264.6" y2="583.3" stroke="#4a4a4a" stroke-width="1.0" />
<line x1="331.3" y1="686.3" x2="331.3" y2="683.6" stroke="#4a4a4a" stroke-width="1.0" />
<line x1="331.3" y1="580.6" x2="331.3" y2="583.3" stroke="#4a4a4a" stroke-width="1.0" />
<line x1="64.5" y1="686.3" x2="67.2" y2="686.3" stroke="#4a4a4a" stroke-width="1.0" />
<line x1="331.3" y1="686.3" x2="328.6" y2="686.3" stroke="#4a4a4a" stroke-width="1.0" />
<line x1="64.5" y1="659.88" x2="67.2" y2="659.88" stroke="#4a4a4a" stroke-width="1.0" />
<line x1="331.3" y1="659.88" x2="328.6" y2="659.88" stroke="#4a4a4a" stroke-width="1.0" />
<line x1="64.5" y1="633.45" x2="67.2" y2="633.45" stroke="#4a4a4a" stroke-width="1.0" />
<line x1="331.3" y1="633.45" x2="328.6" y2="633.45" stroke="#4a4a4a" stroke-width="1.0" />
<line x1="64.5" y1="607.02" x2="67.2" y2="607.02" stroke="#4a4a4a" stroke-width="1.0" />
<line x1="331.3" y1="607.02" x2="328.6" y2="607.02" stroke="#4a4a4a" stroke-width="1.0" />
<line x1="64.5" y1="580.6" x2="67.2" y2="580.6" stroke="#4a4a4a" stroke-width="1.0" />
<line x1="331.3" y1="580.6" x2="328.6" y2="580.6" stroke="#4a4a4a" stroke-width="1.0" />
<rect x="64.5" y="580.6" width="266.8" height="105.7" fill="none" stroke="#4a4a4a" stroke-width="1.0"/>
<text x="64.5" y="701.8" font-size="11" text-anchor="middle" font-family='"Liberation Sans", sans-serif' fill="#262626" >0</text>
<text x="131.2" y="701.8" font-size="11" text-anchor="middle" font-family='"Liberation Sans", sans-serif' fill="#262626" >5</text>
<text x="197.9" y="701.8" font-size="11" text-anchor="middle" font-family='"Liberation Sans", sans-serif' fill="#262626" >10</text>
<text x="264.6" y="701.8" font-size="11" text-anchor="middle" font-family='"Liberation Sans", sans-serif' fill="#262626" >15</text>
<text x="331.3" y="701.8" font-size="11" text-anchor="middle" font-family='"Liberation Sans", sans-serif' fill="#262626" >20</text>
<text x="59.9" y="690.3" font-size="11" text-anchor="end" font-family='"Liberation Sans", sans-serif' fill="#262626" >0</text>
<text x="59.9" y="663.88" font-size="11" text-anchor="end" font-family='"Liberation Sans", sans-serif' fill="#262626" >2000</text>
<text x="59.9" y="637.45" font-size="11" text-anchor="end" font-family='"Liberation Sans", sans-serif' fill="#262626" >4000</text>
<text x="59.9" y="611.02" font-size="11" text-anchor="end" font-family='"Liberation Sans", sans-serif' fill="#262626" >6000</text>
<text x="59.9" y="584.6" font-size="11" text-anchor="end" font-family='"Liberation Sans", sans-serif' fill="#262626" >8000</text>
<text x="327.4" y="595.6" font-size="12" text-anchor="end" font-family='"Liberation Sans", sans-serif' fill="#111111" >cell 24</text>
<text x="197.9" y="718" font-size="12.3" text-anchor="middle" font-family='"Liberation Sans", sans-serif' fill="#262626" >Time (hours)</text>
<text transform="translate(25,659.1) rotate(-90)" font-size="14.0" font-family='"Liberation Serif", serif' font-style="italic" fill="#262626" stroke="#262626" stroke-width="0.25" text-anchor="start">L</text>
<text transform="translate(29.8,651.6) rotate(-90)" font-size="8.6" font-family='"Liberation Serif", serif' fill="#262626" stroke="#262626" stroke-width="0.25" text-anchor="start">24</text>
<text transform="translate(18,651.6) rotate(-90)" font-size="8.6" font-family='"Liberation Serif", serif' fill="#262626" stroke="#262626" stroke-width="0.25" text-anchor="start">2</text>
<text transform="translate(23.8,638.1) rotate(-90)" font-size="13" font-family='"Liberation Serif", serif' fill="#262626" stroke="#262626" stroke-width="0.25" text-anchor="start">(<tspan font-style="italic">&#956;</tspan>m<tspan font-size="9" dy="-6.4">2</tspan><tspan dy="6.4">)</tspan></text>
<text x="343.5" y="583.5" font-size="13.6" text-anchor="start" font-family='"Liberation Sans", sans-serif' fill="#262626" >(e) i)</text>
<polyline points="392.5,682.5 482.13,682.5 491.79,682.25 500.06,681.88 505.58,681.38 510.13,680.76 516.2,679.01 522.26,674.15 529.71,670.41 535.92,667.54 540.74,665.05 546.81,657.08 554.12,646.11 557.84,643.62 562.67,641.25 568.87,633.9 574.94,624.92 578.66,624.18 585.84,614.45 589.56,613.71 593.28,612.46 596.18,613.96 599.35,610.34 604.31,608.35 607.9,605.98 610.38,605.86 615.21,602.24 622.66,602.24 625,603.49 628.72,605.11 631.2,604.11 634.38,602.24" fill="none" stroke="#dfb552" stroke-width="1.0" stroke-linejoin="miter" stroke-miterlimit="10" />
<line x1="392.5" y1="682.5" x2="392.5" y2="679.8" stroke="#4a4a4a" stroke-width="1.0" />
<line x1="392.5" y1="582.8" x2="392.5" y2="585.5" stroke="#4a4a4a" stroke-width="1.0" />
<line x1="461.45" y1="682.5" x2="461.45" y2="679.8" stroke="#4a4a4a" stroke-width="1.0" />
<line x1="461.45" y1="582.8" x2="461.45" y2="585.5" stroke="#4a4a4a" stroke-width="1.0" />
<line x1="530.4" y1="682.5" x2="530.4" y2="679.8" stroke="#4a4a4a" stroke-width="1.0" />
<line x1="530.4" y1="582.8" x2="530.4" y2="585.5" stroke="#4a4a4a" stroke-width="1.0" />
<line x1="599.35" y1="682.5" x2="599.35" y2="679.8" stroke="#4a4a4a" stroke-width="1.0" />
<line x1="599.35" y1="582.8" x2="599.35" y2="585.5" stroke="#4a4a4a" stroke-width="1.0" />
<line x1="668.3" y1="682.5" x2="668.3" y2="679.8" stroke="#4a4a4a" stroke-width="1.0" />
<line x1="668.3" y1="582.8" x2="668.3" y2="585.5" stroke="#4a4a4a" stroke-width="1.0" />
<line x1="392.5" y1="682.5" x2="395.2" y2="682.5" stroke="#4a4a4a" stroke-width="1.0" />
<line x1="668.3" y1="682.5" x2="665.6" y2="682.5" stroke="#4a4a4a" stroke-width="1.0" />
<line x1="392.5" y1="657.58" x2="395.2" y2="657.58" stroke="#4a4a4a" stroke-width="1.0" />
<line x1="668.3" y1="657.58" x2="665.6" y2="657.58" stroke="#4a4a4a" stroke-width="1.0" />
<line x1="392.5" y1="632.65" x2="395.2" y2="632.65" stroke="#4a4a4a" stroke-width="1.0" />
<line x1="668.3" y1="632.65" x2="665.6" y2="632.65" stroke="#4a4a4a" stroke-width="1.0" />
<line x1="392.5" y1="607.72" x2="395.2" y2="607.72" stroke="#4a4a4a" stroke-width="1.0" />
<line x1="668.3" y1="607.72" x2="665.6" y2="607.72" stroke="#4a4a4a" stroke-width="1.0" />
<line x1="392.5" y1="582.8" x2="395.2" y2="582.8" stroke="#4a4a4a" stroke-width="1.0" />
<line x1="668.3" y1="582.8" x2="665.6" y2="582.8" stroke="#4a4a4a" stroke-width="1.0" />
<rect x="392.5" y="582.8" width="275.8" height="99.7" fill="none" stroke="#4a4a4a" stroke-width="1.0"/>
<text x="392.5" y="698" font-size="11" text-anchor="middle" font-family='"Liberation Sans", sans-serif' fill="#262626" >0</text>
<text x="461.45" y="698" font-size="11" text-anchor="middle" font-family='"Liberation Sans", sans-serif' fill="#262626" >5</text>
<text x="530.4" y="698" font-size="11" text-anchor="middle" font-family='"Liberation Sans", sans-serif' fill="#262626" >10</text>
<text x="599.35" y="698" font-size="11" text-anchor="middle" font-family='"Liberation Sans", sans-serif' fill="#262626" >15</text>
<text x="668.3" y="698" font-size="11" text-anchor="middle" font-family='"Liberation Sans", sans-serif' fill="#262626" >20</text>
<text x="387.9" y="686.5" font-size="11" text-anchor="end" font-family='"Liberation Sans", sans-serif' fill="#262626" >0</text>
<text x="387.9" y="661.58" font-size="11" text-anchor="end" font-family='"Liberation Sans", sans-serif' fill="#262626" >2</text>
<text x="387.9" y="636.65" font-size="11" text-anchor="end" font-family='"Liberation Sans", sans-serif' fill="#262626" >4</text>
<text x="387.9" y="611.72" font-size="11" text-anchor="end" font-family='"Liberation Sans", sans-serif' fill="#262626" >6</text>
<text x="387.9" y="586.8" font-size="11" text-anchor="end" font-family='"Liberation Sans", sans-serif' fill="#262626" >8</text>
<text x="665" y="596.6" font-size="12" text-anchor="end" font-family='"Liberation Sans", sans-serif' fill="#111111" >cell 23</text>
<text x="530.4" y="714.5" font-size="12.3" text-anchor="middle" font-family='"Liberation Sans", sans-serif' fill="#262626" >Time (hours)</text>
<text transform="translate(370.9,659.1) rotate(-90)" font-size="14.0" font-family='"Liberation Serif", serif' font-style="italic" fill="#262626" stroke="#262626" stroke-width="0.25" text-anchor="start">L</text>
<text transform="translate(375.7,651.6) rotate(-90)" font-size="8.6" font-family='"Liberation Serif", serif' fill="#262626" stroke="#262626" stroke-width="0.25" text-anchor="start">23</text>
<text transform="translate(363.9,651.6) rotate(-90)" font-size="8.6" font-family='"Liberation Serif", serif' fill="#262626" stroke="#262626" stroke-width="0.25" text-anchor="start">2</text>
<text transform="translate(369.7,638.1) rotate(-90)" font-size="13" font-family='"Liberation Serif", serif' fill="#262626" stroke="#262626" stroke-width="0.25" text-anchor="start">(<tspan font-style="italic">&#956;</tspan>m<tspan font-size="9" dy="-6.4">2</tspan><tspan dy="6.4">)</tspan></text>
<text x="392.4" y="579.6" font-size="11.5" text-anchor="start" font-family='"Liberation Sans", sans-serif' fill="#262626" >&#215;</text>
<text x="400.3" y="579.8" font-size="11" text-anchor="start" font-family='"Liberation Sans", sans-serif' fill="#262626" >10</text>
<text x="413" y="574" font-size="8.4" text-anchor="start" font-family='"Liberation Sans", sans-serif' fill="#262626" >4</text>
<text x="34.3" y="414.9" font-size="12.2" text-anchor="start" font-family='"Liberation Sans", sans-serif' fill="#262626" >ii)</text>
<svg x="59.4" y="404.9" width="136.6" height="122.9" viewBox="59.4 404.9 136.6 122.9" overflow="hidden">
<polyline points="142.19,453.32 193.93,443.78 158.25,443.78 85.89,494.73 162.55,429.85 127.7,429.85 95.66,429.85 58.99,485.72 69.75,476.55" fill="none" stroke="#e04545" stroke-width="1.0" stroke-linejoin="miter" stroke-miterlimit="10" />
</svg>
<line x1="59.4" y1="527.8" x2="59.4" y2="526.2" stroke="#4a4a4a" stroke-width="1.0" />
<line x1="59.4" y1="404.9" x2="59.4" y2="406.5" stroke="#4a4a4a" stroke-width="1.0" />
<line x1="100.79" y1="527.8" x2="100.79" y2="526.2" stroke="#4a4a4a" stroke-width="1.0" />
<line x1="100.79" y1="404.9" x2="100.79" y2="406.5" stroke="#4a4a4a" stroke-width="1.0" />
<line x1="142.19" y1="527.8" x2="142.19" y2="526.2" stroke="#4a4a4a" stroke-width="1.0" />
<line x1="142.19" y1="404.9" x2="142.19" y2="406.5" stroke="#4a4a4a" stroke-width="1.0" />
<line x1="183.58" y1="527.8" x2="183.58" y2="526.2" stroke="#4a4a4a" stroke-width="1.0" />
<line x1="183.58" y1="404.9" x2="183.58" y2="406.5" stroke="#4a4a4a" stroke-width="1.0" />
<line x1="59.4" y1="527.8" x2="61" y2="527.8" stroke="#4a4a4a" stroke-width="1.0" />
<line x1="196" y1="527.8" x2="194.4" y2="527.8" stroke="#4a4a4a" stroke-width="1.0" />
<line x1="59.4" y1="490.56" x2="61" y2="490.56" stroke="#4a4a4a" stroke-width="1.0" />
<line x1="196" y1="490.56" x2="194.4" y2="490.56" stroke="#4a4a4a" stroke-width="1.0" />
<line x1="59.4" y1="453.32" x2="61" y2="453.32" stroke="#4a4a4a" stroke-width="1.0" />
<line x1="196" y1="453.32" x2="194.4" y2="453.32" stroke="#4a4a4a" stroke-width="1.0" />
<line x1="59.4" y1="416.07" x2="61" y2="416.07" stroke="#4a4a4a" stroke-width="1.0" />
<line x1="196" y1="416.07" x2="194.4" y2="416.07" stroke="#4a4a4a" stroke-width="1.0" />
<rect x="59.4" y="404.9" width="136.6" height="122.9" fill="none" stroke="#4a4a4a" stroke-width="1.0"/>
<text x="59.4" y="540.2" font-size="8.2" text-anchor="middle" font-family='"Liberation Sans", sans-serif' fill="#262626" >-10</text>
<text x="100.79" y="540.2" font-size="8.2" text-anchor="middle" font-family='"Liberation Sans", sans-serif' fill="#262626" >-5</text>
<text x="142.19" y="540.2" font-size="8.2" text-anchor="middle" font-family='"Liberation Sans", sans-serif' fill="#262626" >0</text>
<text x="183.58" y="540.2" font-size="8.2" text-anchor="middle" font-family='"Liberation Sans", sans-serif' fill="#262626" >5</text>
<text x="55.8" y="530.7" font-size="8.2" text-anchor="end" font-family='"Liberation Sans", sans-serif' fill="#262626" >-10</text>
<text x="55.8" y="493.46" font-size="8.2" text-anchor="end" font-family='"Liberation Sans", sans-serif' fill="#262626" >-5</text>
<text x="55.8" y="456.22" font-size="8.2" text-anchor="end" font-family='"Liberation Sans", sans-serif' fill="#262626" >0</text>
<text x="55.8" y="418.97" font-size="8.2" text-anchor="end" font-family='"Liberation Sans", sans-serif' fill="#262626" >5</text>
<circle cx="142.19" cy="453.32" r="2.75" fill="#000000"/>
<circle cx="69.75" cy="476.55" r="2.75" fill="#f01010"/>
<text x="127.7" y="553.5" font-size="9.7" text-anchor="middle" font-family='"Liberation Sans", sans-serif' fill="#262626" >x (<tspan font-family='"Liberation Serif", serif' font-style="italic">&#956;</tspan>m)</text>
<text transform="translate(39.2,466.3) rotate(-90)" x="0" y="0" font-size="9.7" text-anchor="middle" font-family='"Liberation Sans", sans-serif' fill="#262626">y (<tspan font-family='"Liberation Serif", serif' font-style="italic">&#956;</tspan>m)</text>
<text x="367.4" y="414.3" font-size="12.2" text-anchor="start" font-family='"Liberation Sans", sans-serif' fill="#262626" >ii)</text>
<svg x="397.2" y="404.3" width="137" height="123" viewBox="397.2 404.3 137 123" overflow="hidden">
<polyline points="455.91,465.8 457.48,469.8 441.04,471.64 454.74,467.64 476.07,442.74 473.06,460.88 474.98,462.42 499.75,425.82 489.77,408.3 478.23,456.57 477.56,429.82 476.07,442.74 473.45,465 457.4,478.71 483.12,505.16 475.33,488.55 471.57,497.16 470.4,506.08 452.9,501.93 463.35,499.32 448.87,475.95 463.35,486.71 463.35,499.62 456.7,472.56 455.13,467.34 448.87,475.95 440.1,485.48 424.99,499.93 421.27,503.93" fill="none" stroke="#3a3ad4" stroke-width="1.0" stroke-linejoin="miter" stroke-miterlimit="10" />
</svg>
<line x1="416.77" y1="527.3" x2="416.77" y2="525.7" stroke="#4a4a4a" stroke-width="1.0" />
<line x1="416.77" y1="404.3" x2="416.77" y2="405.9" stroke="#4a4a4a" stroke-width="1.0" />
<line x1="455.91" y1="527.3" x2="455.91" y2="525.7" stroke="#4a4a4a" stroke-width="1.0" />
<line x1="455.91" y1="404.3" x2="455.91" y2="405.9" stroke="#4a4a4a" stroke-width="1.0" />
<line x1="495.06" y1="527.3" x2="495.06" y2="525.7" stroke="#4a4a4a" stroke-width="1.0" />
<line x1="495.06" y1="404.3" x2="495.06" y2="405.9" stroke="#4a4a4a" stroke-width="1.0" />
<line x1="534.2" y1="527.3" x2="534.2" y2="525.7" stroke="#4a4a4a" stroke-width="1.0" />
<line x1="534.2" y1="404.3" x2="534.2" y2="405.9" stroke="#4a4a4a" stroke-width="1.0" />
<line x1="397.2" y1="527.3" x2="398.8" y2="527.3" stroke="#4a4a4a" stroke-width="1.0" />
<line x1="534.2" y1="527.3" x2="532.6" y2="527.3" stroke="#4a4a4a" stroke-width="1.0" />
<line x1="397.2" y1="496.55" x2="398.8" y2="496.55" stroke="#4a4a4a" stroke-width="1.0" />
<line x1="534.2" y1="496.55" x2="532.6" y2="496.55" stroke="#4a4a4a" stroke-width="1.0" />
<line x1="397.2" y1="465.8" x2="398.8" y2="465.8" stroke="#4a4a4a" stroke-width="1.0" />
<line x1="534.2" y1="465.8" x2="532.6" y2="465.8" stroke="#4a4a4a" stroke-width="1.0" />
<line x1="397.2" y1="435.05" x2="398.8" y2="435.05" stroke="#4a4a4a" stroke-width="1.0" />
<line x1="534.2" y1="435.05" x2="532.6" y2="435.05" stroke="#4a4a4a" stroke-width="1.0" />
<line x1="397.2" y1="404.3" x2="398.8" y2="404.3" stroke="#4a4a4a" stroke-width="1.0" />
<line x1="534.2" y1="404.3" x2="532.6" y2="404.3" stroke="#4a4a4a" stroke-width="1.0" />
<rect x="397.2" y="404.3" width="137" height="123" fill="none" stroke="#4a4a4a" stroke-width="1.0"/>
<text x="416.77" y="539.7" font-size="8.2" text-anchor="middle" font-family='"Liberation Sans", sans-serif' fill="#262626" >-10</text>
<text x="455.91" y="539.7" font-size="8.2" text-anchor="middle" font-family='"Liberation Sans", sans-serif' fill="#262626" >0</text>
<text x="495.06" y="539.7" font-size="8.2" text-anchor="middle" font-family='"Liberation Sans", sans-serif' fill="#262626" >10</text>
<text x="534.2" y="539.7" font-size="8.2" text-anchor="middle" font-family='"Liberation Sans", sans-serif' fill="#262626" >20</text>
<text x="393.6" y="530.2" font-size="8.2" text-anchor="end" font-family='"Liberation Sans", sans-serif' fill="#262626" >-20</text>
<text x="393.6" y="499.45" font-size="8.2" text-anchor="end" font-family='"Liberation Sans", sans-serif' fill="#262626" >-10</text>
<text x="393.6" y="468.7" font-size="8.2" text-anchor="end" font-family='"Liberation Sans", sans-serif' fill="#262626" >0</text>
<text x="393.6" y="437.95" font-size="8.2" text-anchor="end" font-family='"Liberation Sans", sans-serif' fill="#262626" >10</text>
<text x="393.6" y="407.2" font-size="8.2" text-anchor="end" font-family='"Liberation Sans", sans-serif' fill="#262626" >20</text>
<circle cx="455.91" cy="465.8" r="2.75" fill="#000000"/>
<circle cx="421.27" cy="503.93" r="2.75" fill="#1414d2"/>
<text x="466.2" y="552.7" font-size="9.7" text-anchor="middle" font-family='"Liberation Sans", sans-serif' fill="#262626" >x (<tspan font-family='"Liberation Serif", serif' font-style="italic">&#956;</tspan>m)</text>
<text transform="translate(378.8,465.8) rotate(-90)" x="0" y="0" font-size="9.7" text-anchor="middle" font-family='"Liberation Sans", sans-serif' fill="#262626">y (<tspan font-family='"Liberation Serif", serif' font-style="italic">&#956;</tspan>m)</text>
<text x="36" y="745" font-size="12.2" text-anchor="start" font-family='"Liberation Sans", sans-serif' fill="#262626" >ii)</text>
<svg x="64.4" y="733" width="136.9" height="123" viewBox="64.4 733 136.9 123" overflow="hidden">
<polyline points="170.54,760.95 167.84,754.86 164.46,747.03 171.22,754.86 170.54,760.27 171.22,765 173.92,771.08 176.62,769.05 180.68,764.32 177.7,765.68 180.68,767.7 184.05,769.05 182.7,772.43 182.03,787.3 178.65,785.27 180,790.68 184.05,794.73 182.03,792.7 184.73,796.76 197.57,820.41 194.86,826.49 187.43,828.51 182.03,827.84 183.38,823.78 184.73,821.08 184.05,813.65 186.76,808.24 183.38,803.51 183.38,810.27 179.32,813.65 176.62,818.38 173.92,819.05 171.89,826.49 169.86,831.89 173.24,830.54 170.54,838.65 174.59,835.27 177.3,833.24 180.68,834.59 186.76,831.89 184.05,841.35 181.35,834.59 175.27,842.7 180,848.11 171.22,846.76 173.92,844.05 165.14,852.84 172.57,848.11 182.03,835.95 179.05,828.51" fill="none" stroke="#3fe03f" stroke-width="1.0" stroke-linejoin="miter" stroke-miterlimit="10" />
</svg>
<line x1="70.62" y1="856" x2="70.62" y2="854.4" stroke="#4a4a4a" stroke-width="1.0" />
<line x1="70.62" y1="733" x2="70.62" y2="734.6" stroke="#4a4a4a" stroke-width="1.0" />
<line x1="95.51" y1="856" x2="95.51" y2="854.4" stroke="#4a4a4a" stroke-width="1.0" />
<line x1="95.51" y1="733" x2="95.51" y2="734.6" stroke="#4a4a4a" stroke-width="1.0" />
<line x1="120.4" y1="856" x2="120.4" y2="854.4" stroke="#4a4a4a" stroke-width="1.0" />
<line x1="120.4" y1="733" x2="120.4" y2="734.6" stroke="#4a4a4a" stroke-width="1.0" />
<line x1="145.3" y1="856" x2="145.3" y2="854.4" stroke="#4a4a4a" stroke-width="1.0" />
<line x1="145.3" y1="733" x2="145.3" y2="734.6" stroke="#4a4a4a" stroke-width="1.0" />
<line x1="170.19" y1="856" x2="170.19" y2="854.4" stroke="#4a4a4a" stroke-width="1.0" />
<line x1="170.19" y1="733" x2="170.19" y2="734.6" stroke="#4a4a4a" stroke-width="1.0" />
<line x1="195.08" y1="856" x2="195.08" y2="854.4" stroke="#4a4a4a" stroke-width="1.0" />
<line x1="195.08" y1="733" x2="195.08" y2="734.6" stroke="#4a4a4a" stroke-width="1.0" />
<line x1="64.4" y1="850.41" x2="66" y2="850.41" stroke="#4a4a4a" stroke-width="1.0" />
<line x1="201.3" y1="850.41" x2="199.7" y2="850.41" stroke="#4a4a4a" stroke-width="1.0" />
<line x1="64.4" y1="828.05" x2="66" y2="828.05" stroke="#4a4a4a" stroke-width="1.0" />
<line x1="201.3" y1="828.05" x2="199.7" y2="828.05" stroke="#4a4a4a" stroke-width="1.0" />
<line x1="64.4" y1="805.68" x2="66" y2="805.68" stroke="#4a4a4a" stroke-width="1.0" />
<line x1="201.3" y1="805.68" x2="199.7" y2="805.68" stroke="#4a4a4a" stroke-width="1.0" />
<line x1="64.4" y1="783.32" x2="66" y2="783.32" stroke="#4a4a4a" stroke-width="1.0" />
<line x1="201.3" y1="783.32" x2="199.7" y2="783.32" stroke="#4a4a4a" stroke-width="1.0" />
<line x1="64.4" y1="760.95" x2="66" y2="760.95" stroke="#4a4a4a" stroke-width="1.0" />
<line x1="201.3" y1="760.95" x2="199.7" y2="760.95" stroke="#4a4a4a" stroke-width="1.0" />
<line x1="64.4" y1="738.59" x2="66" y2="738.59" stroke="#4a4a4a" stroke-width="1.0" />
<line x1="201.3" y1="738.59" x2="199.7" y2="738.59" stroke="#4a4a4a" stroke-width="1.0" />
<rect x="64.4" y="733" width="136.9" height="123" fill="none" stroke="#4a4a4a" stroke-width="1.0"/>
<text x="70.62" y="868.4" font-size="8.2" text-anchor="middle" font-family='"Liberation Sans", sans-serif' fill="#262626" >-80</text>
<text x="95.51" y="868.4" font-size="8.2" text-anchor="middle" font-family='"Liberation Sans", sans-serif' fill="#262626" >-60</text>
<text x="120.4" y="868.4" font-size="8.2" text-anchor="middle" font-family='"Liberation Sans", sans-serif' fill="#262626" >-40</text>
<text x="145.3" y="868.4" font-size="8.2" text-anchor="middle" font-family='"Liberation Sans", sans-serif' fill="#262626" >-20</text>
<text x="170.19" y="868.4" font-size="8.2" text-anchor="middle" font-family='"Liberation Sans", sans-serif' fill="#262626" >0</text>
<text x="195.08" y="868.4" font-size="8.2" text-anchor="middle" font-family='"Liberation Sans", sans-serif' fill="#262626" >20</text>
<text x="60.8" y="853.31" font-size="8.2" text-anchor="end" font-family='"Liberation Sans", sans-serif' fill="#262626" >-80</text>
<text x="60.8" y="830.95" font-size="8.2" text-anchor="end" font-family='"Liberation Sans", sans-serif' fill="#262626" >-60</text>
<text x="60.8" y="808.58" font-size="8.2" text-anchor="end" font-family='"Liberation Sans", sans-serif' fill="#262626" >-40</text>
<text x="60.8" y="786.22" font-size="8.2" text-anchor="end" font-family='"Liberation Sans", sans-serif' fill="#262626" >-20</text>
<text x="60.8" y="763.85" font-size="8.2" text-anchor="end" font-family='"Liberation Sans", sans-serif' fill="#262626" >0</text>
<text x="60.8" y="741.49" font-size="8.2" text-anchor="end" font-family='"Liberation Sans", sans-serif' fill="#262626" >20</text>
<circle cx="170.54" cy="760.95" r="2.75" fill="#000000"/>
<circle cx="179.05" cy="828.51" r="2.75" fill="#22e022"/>
<text x="133" y="881.7" font-size="9.7" text-anchor="middle" font-family='"Liberation Sans", sans-serif' fill="#262626" >x (<tspan font-family='"Liberation Serif", serif' font-style="italic">&#956;</tspan>m)</text>
<text transform="translate(45,794.5) rotate(-90)" x="0" y="0" font-size="9.7" text-anchor="middle" font-family='"Liberation Sans", sans-serif' fill="#262626">y (<tspan font-family='"Liberation Serif", serif' font-style="italic">&#956;</tspan>m)</text>
<text x="362" y="746.6" font-size="12.2" text-anchor="start" font-family='"Liberation Sans", sans-serif' fill="#262626" >ii)</text>
<svg x="393.8" y="735.7" width="136.3" height="123" viewBox="393.8 735.7 136.3 123" overflow="hidden">
<polyline points="406.22,847.43 409.88,846.02 411.29,841.24 414.67,842.65 413.54,844.62 416.36,848.84 412.7,848.84 411.29,845.46 415.51,843.21 422.55,841.8 423.96,837.58 426.77,836.74 428.74,833.36 436.62,829.14 442.25,828.57 449.29,822.95 454.92,823.51 459.7,822.1 461.95,805.21 466.17,803.81 470.4,802.4 476.02,795.36 481.65,789.73 485.88,780.73 490.1,779.88 494.32,778.48 501.36,772.28 506.98,765.81 511.21,763.84 516.84,763.84 518.24,762.43 523.87,757.37 522.75,753.15 526.69,754.55 529.5,752.58" fill="none" stroke="#dc7034" stroke-width="1.0" stroke-linejoin="miter" stroke-miterlimit="10" />
</svg>
<line x1="406.19" y1="858.7" x2="406.19" y2="857.1" stroke="#4a4a4a" stroke-width="1.0" />
<line x1="406.19" y1="735.7" x2="406.19" y2="737.3" stroke="#4a4a4a" stroke-width="1.0" />
<line x1="437.17" y1="858.7" x2="437.17" y2="857.1" stroke="#4a4a4a" stroke-width="1.0" />
<line x1="437.17" y1="735.7" x2="437.17" y2="737.3" stroke="#4a4a4a" stroke-width="1.0" />
<line x1="468.15" y1="858.7" x2="468.15" y2="857.1" stroke="#4a4a4a" stroke-width="1.0" />
<line x1="468.15" y1="735.7" x2="468.15" y2="737.3" stroke="#4a4a4a" stroke-width="1.0" />
<line x1="499.12" y1="858.7" x2="499.12" y2="857.1" stroke="#4a4a4a" stroke-width="1.0" />
<line x1="499.12" y1="735.7" x2="499.12" y2="737.3" stroke="#4a4a4a" stroke-width="1.0" />
<line x1="530.1" y1="858.7" x2="530.1" y2="857.1" stroke="#4a4a4a" stroke-width="1.0" />
<line x1="530.1" y1="735.7" x2="530.1" y2="737.3" stroke="#4a4a4a" stroke-width="1.0" />
<line x1="393.8" y1="847.52" x2="395.4" y2="847.52" stroke="#4a4a4a" stroke-width="1.0" />
<line x1="530.1" y1="847.52" x2="528.5" y2="847.52" stroke="#4a4a4a" stroke-width="1.0" />
<line x1="393.8" y1="819.56" x2="395.4" y2="819.56" stroke="#4a4a4a" stroke-width="1.0" />
<line x1="530.1" y1="819.56" x2="528.5" y2="819.56" stroke="#4a4a4a" stroke-width="1.0" />
<line x1="393.8" y1="791.61" x2="395.4" y2="791.61" stroke="#4a4a4a" stroke-width="1.0" />
<line x1="530.1" y1="791.61" x2="528.5" y2="791.61" stroke="#4a4a4a" stroke-width="1.0" />
<line x1="393.8" y1="763.65" x2="395.4" y2="763.65" stroke="#4a4a4a" stroke-width="1.0" />
<line x1="530.1" y1="763.65" x2="528.5" y2="763.65" stroke="#4a4a4a" stroke-width="1.0" />
<line x1="393.8" y1="735.7" x2="395.4" y2="735.7" stroke="#4a4a4a" stroke-width="1.0" />
<line x1="530.1" y1="735.7" x2="528.5" y2="735.7" stroke="#4a4a4a" stroke-width="1.0" />
<rect x="393.8" y="735.7" width="136.3" height="123" fill="none" stroke="#4a4a4a" stroke-width="1.0"/>
<text x="406.19" y="871.1" font-size="8.2" text-anchor="middle" font-family='"Liberation Sans", sans-serif' fill="#262626" >0</text>
<text x="437.17" y="871.1" font-size="8.2" text-anchor="middle" font-family='"Liberation Sans", sans-serif' fill="#262626" >50</text>
<text x="468.15" y="871.1" font-size="8.2" text-anchor="middle" font-family='"Liberation Sans", sans-serif' fill="#262626" >100</text>
<text x="499.12" y="871.1" font-size="8.2" text-anchor="middle" font-family='"Liberation Sans", sans-serif' fill="#262626" >150</text>
<text x="530.1" y="871.1" font-size="8.2" text-anchor="middle" font-family='"Liberation Sans", sans-serif' fill="#262626" >200</text>
<text x="390.2" y="850.42" font-size="8.2" text-anchor="end" font-family='"Liberation Sans", sans-serif' fill="#262626" >0</text>
<text x="390.2" y="822.46" font-size="8.2" text-anchor="end" font-family='"Liberation Sans", sans-serif' fill="#262626" >50</text>
<text x="390.2" y="794.51" font-size="8.2" text-anchor="end" font-family='"Liberation Sans", sans-serif' fill="#262626" >100</text>
<text x="390.2" y="766.55" font-size="8.2" text-anchor="end" font-family='"Liberation Sans", sans-serif' fill="#262626" >150</text>
<text x="390.2" y="738.6" font-size="8.2" text-anchor="end" font-family='"Liberation Sans", sans-serif' fill="#262626" >200</text>
<circle cx="406.22" cy="847.43" r="2.75" fill="#000000"/>
<circle cx="529.5" cy="752.58" r="2.75" fill="#e08a12"/>
<text x="461.9" y="883.7" font-size="9.7" text-anchor="middle" font-family='"Liberation Sans", sans-serif' fill="#262626" >x (<tspan font-family='"Liberation Serif", serif' font-style="italic">&#956;</tspan>m)</text>
<text transform="translate(373.4,797.2) rotate(-90)" x="0" y="0" font-size="9.7" text-anchor="middle" font-family='"Liberation Sans", sans-serif' fill="#262626">y (<tspan font-family='"Liberation Serif", serif' font-style="italic">&#956;</tspan>m)</text>
<path d="M409.6,847.6 L413.2,845.0 L417.4,848.6 L413.0,849.6 Z" fill="#e89a30" stroke="#e89a30" stroke-width="0.8"/>
<path d="M410.6,841.2 L413.8,843.2 L412.4,845.6 M414.2,846 L417.6,849.2" fill="none" stroke="#e8a040" stroke-width="0.9"/>
<circle cx="406.4" cy="847.4" r="2.75" fill="#000000"/>
<text x="208.4" y="414.2" font-size="12.2" text-anchor="start" font-family='"Liberation Sans", sans-serif' fill="#262626" >iii)</text>
<clipPath id="clip1"><rect x="225.1" y="402.8" width="56.6" height="56.5"/></clipPath>
<g clip-path="url(#clip1)">
<rect x="225.1" y="402.8" width="56.6" height="56.5" fill="rgb(84,84,84)"/>
<rect x="225.1" y="402.8" width="56.6" height="56.5" fill="#808080" filter="url(#noise)" opacity="0.14"/>
<g transform="translate(225.1,402.8)">
<ellipse cx="25.3" cy="42.7" rx="4" ry="4.5" fill="#707070" transform="rotate(0 25.3 42.7)" filter="url(#b15)"/><ellipse cx="25.3" cy="42.7" rx="2.6" ry="3.2" fill="#626262" transform="rotate(0 25.3 42.7)" filter="url(#b15)"/><ellipse cx="31.6" cy="11.1" rx="1.1" ry="1.1" fill="#555555" transform="rotate(0 31.6 11.1)" filter="url(#b05)"/><path d="M14,12.6 L18,14.5" fill="none" stroke="#b8b8b8" stroke-width="1.6" stroke-linecap="round" stroke-linejoin="round" filter="url(#b05)"/><path d="M9.8,12 L14.7,14.8 L22,19.8 L30.2,25.8" fill="none" stroke="#3c3c3c" stroke-width="2.4" stroke-linecap="round" stroke-linejoin="round" filter="url(#b05)"/><path d="M30,25.5 Q37,23.5 42.5,28.5 Q46,33 44.5,37.5 Q39,37.5 35,35 Q31.5,31 30,25.5 Z" fill="#5e5e5e" filter="url(#b05)"/><ellipse cx="39" cy="32" rx="3.6" ry="2.6" fill="#474747" transform="rotate(30 39 32)" filter="url(#b05)"/><path d="M33.5,24.6 Q41.5,25.2 44.3,29.8 Q46.3,33.6 45.4,37.6" fill="none" stroke="#f2f2f2" stroke-width="1.8" stroke-linecap="round" stroke-linejoin="round" filter="url(#b1)"/><path d="M33.2,35.8 Q38,37.8 43,37.6" fill="none" stroke="#e2e2e2" stroke-width="1.6" stroke-linecap="round" stroke-linejoin="round" filter="url(#b1)"/><path d="M30.8,27.5 Q31.2,31 33,33.5" fill="none" stroke="#aaaaaa" stroke-width="1.2" stroke-linecap="round" stroke-linejoin="round" filter="url(#b05)"/><path d="M44.6,37.5 Q45.6,42 45,46.5" fill="none" stroke="#3a3a3a" stroke-width="1.2" stroke-linecap="round" stroke-linejoin="round" filter="url(#b05)"/>
</g></g>
<line x1="256" y1="455.4" x2="279.8" y2="455.4" stroke="#141414" stroke-width="1.6" />
<text x="208.4" y="484" font-size="12.2" text-anchor="start" font-family='"Liberation Sans", sans-serif' fill="#262626" >iv)</text>
<clipPath id="clip2"><rect x="225.2" y="473.8" width="56.5" height="56.5"/></clipPath>
<g clip-path="url(#clip2)">
<rect x="225.2" y="473.8" width="56.5" height="56.5" fill="rgb(121,121,121)"/>
<rect x="225.2" y="473.8" width="56.5" height="56.5" fill="#808080" filter="url(#noise)" opacity="0.14"/>
<g transform="translate(225.2,473.8)">
<path d="M12,15.6 L19.3,21.4" fill="none" stroke="#aaaaaa" stroke-width="2.6" stroke-linecap="round" stroke-linejoin="round" filter="url(#b1)"/><ellipse cx="22.2" cy="9.3" rx="1.0" ry="1.0" fill="#4a4a4a" transform="rotate(0 22.2 9.3)" filter="url(#b05)"/><path d="M14.7,38.2 Q16,42 18.2,45.3" fill="none" stroke="#5e5e5e" stroke-width="1.6" stroke-linecap="round" stroke-linejoin="round" filter="url(#b1)"/><path d="M21.2,19.8 L10,28.4 L10.6,30.2 L21.5,24.6 Z" fill="#4c4c4c" filter="url(#b05)"/><path d="M23.6,13 L21.5,17.2 L19.8,21.2" fill="none" stroke="#343434" stroke-width="2.8" stroke-linecap="round" stroke-linejoin="round" filter="url(#b05)"/><ellipse cx="23.8" cy="13.3" rx="1.7" ry="2.1" fill="#2e2e2e" transform="rotate(20 23.8 13.3)" filter="url(#b05)"/><path d="M19.5,21.5 Q27,21 32,23 Q36,26 38.5,32 Q42,35 48.5,36 Q46,38.5 40,37.5 Q33,35 27,31 Q22,27 19.5,24 Z" fill="#5c5c5c" filter="url(#b05)"/><ellipse cx="33.3" cy="29.0" rx="3.8" ry="2.8" fill="#444444" transform="rotate(35 33.3 29.0)" filter="url(#b05)"/><path d="M31.5,22.8 Q36.4,25.8 38.6,33.6" fill="none" stroke="#f4f4f4" stroke-width="2.0" stroke-linecap="round" stroke-linejoin="round" filter="url(#b1)"/><path d="M19.2,27 Q25,32.6 32.4,34.6" fill="none" stroke="#e8e8e8" stroke-width="2.2" stroke-linecap="round" stroke-linejoin="round" filter="url(#b1)"/><path d="M38.6,34 Q44,36 48.4,36.4" fill="none" stroke="#3a3a3a" stroke-width="2.0" stroke-linecap="round" stroke-linejoin="round" filter="url(#b05)"/>
</g></g>
<line x1="256" y1="526.4" x2="279.8" y2="526.4" stroke="#141414" stroke-width="1.6" />
<text x="544.4" y="416" font-size="12.2" text-anchor="start" font-family='"Liberation Sans", sans-serif' fill="#262626" >iii)</text>
<clipPath id="clip3"><rect x="559.8" y="405.2" width="56.9" height="56.5"/></clipPath>
<g clip-path="url(#clip3)">
<rect x="559.8" y="405.2" width="56.9" height="56.5" fill="rgb(131,131,131)"/>
<rect x="559.8" y="405.2" width="56.9" height="56.5" fill="#808080" filter="url(#noise)" opacity="0.14"/>
<g transform="translate(559.8,405.2)">
<path d="M16,10.7 Q22,15 29.3,22.7" fill="none" stroke="#4a4a4a" stroke-width="1.1" stroke-linecap="round" stroke-linejoin="round" filter="url(#b05)"/><ellipse cx="32" cy="30.5" rx="6.8" ry="3.4" fill="#c4c4c4" transform="rotate(45 32 30.5)" filter="url(#b15)"/><path d="M27.5,22 C32.5,23 37,27.5 39.8,33.2 C35,31.5 30.5,28 27.5,22 Z" fill="#4e4e4e" filter="url(#b05)"/><ellipse cx="34" cy="28.4" rx="3.4" ry="1.6" fill="#2e2e2e" transform="rotate(42 34 28.4)" filter="url(#b05)"/><path d="M29.6,21.6 C33.6,22.8 37.6,26.4 39.6,30.4" fill="none" stroke="#f4f4f4" stroke-width="2.3" stroke-linecap="round" stroke-linejoin="round" filter="url(#b1)"/><path d="M38.5,32 Q42.5,35.5 47.1,38.7" fill="none" stroke="#505050" stroke-width="1.1" stroke-linecap="round" stroke-linejoin="round" filter="url(#b05)"/>
</g></g>
<line x1="561.6" y1="459.2" x2="579.2" y2="459.2" stroke="#141414" stroke-width="1.6" />
<text x="543.6" y="485.6" font-size="12.2" text-anchor="start" font-family='"Liberation Sans", sans-serif' fill="#262626" >iv)</text>
<clipPath id="clip4"><rect x="560.8" y="474.8" width="56.9" height="56.9"/></clipPath>
<g clip-path="url(#clip4)">
<rect x="560.8" y="474.8" width="56.9" height="56.9" fill="rgb(133,133,133)"/>
<rect x="560.8" y="474.8" width="56.9" height="56.9" fill="#808080" filter="url(#noise)" opacity="0.14"/>
<g transform="translate(560.8,474.8)">
<path d="M13.8,0 Q16,6 18.7,11.6 Q23,18 27.6,22.2 M37.6,34.5 Q40.5,42 41.8,48 Q42.5,52 42.7,57" fill="none" stroke="#454545" stroke-width="1.0" stroke-linecap="round" stroke-linejoin="round" filter="url(#b05)"/><ellipse cx="31.5" cy="30.8" rx="6.4" ry="3.2" fill="#cccccc" transform="rotate(55 31.5 30.8)" filter="url(#b15)"/><path d="M27.8,21.8 C33,24 37.5,28.5 38.4,35.2 C34,32.5 30,28 27.8,21.8 Z" fill="#4e4e4e" filter="url(#b05)"/><ellipse cx="34" cy="28.6" rx="3.2" ry="1.7" fill="#2e2e2e" transform="rotate(50 34 28.6)" filter="url(#b05)"/><path d="M29.3,21.8 C34,23 37.5,26.5 38.6,31.2" fill="none" stroke="#f4f4f4" stroke-width="2.4" stroke-linecap="round" stroke-linejoin="round" filter="url(#b1)"/><ellipse cx="6.7" cy="48" rx="0.9" ry="0.9" fill="#5a5a5a" transform="rotate(0 6.7 48)" filter="url(#b05)"/><ellipse cx="40" cy="51.6" rx="0.9" ry="0.9" fill="#5a5a5a" transform="rotate(0 40 51.6)" filter="url(#b05)"/>
</g></g>
<line x1="563" y1="529.3" x2="580.3" y2="529.3" stroke="#141414" stroke-width="1.6" />
<text x="209.4" y="745.2" font-size="12.2" text-anchor="start" font-family='"Liberation Sans", sans-serif' fill="#262626" >iii)</text>
<clipPath id="clip5"><rect x="224.3" y="733.8" width="56.5" height="56.9"/></clipPath>
<g clip-path="url(#clip5)">
<rect x="224.3" y="733.8" width="56.5" height="56.9" fill="rgb(140,140,140)"/>
<rect x="224.3" y="733.8" width="56.5" height="56.9" fill="#808080" filter="url(#noise)" opacity="0.14"/>
<g transform="translate(224.3,733.8)">
<ellipse cx="38.7" cy="24.9" rx="1.1" ry="1.1" fill="#4e4e4e" transform="rotate(0 38.7 24.9)" filter="url(#b05)"/><ellipse cx="12.4" cy="6.7" rx="1.1" ry="1.1" fill="#6e6e6e" transform="rotate(0 12.4 6.7)" filter="url(#b05)"/><ellipse cx="25" cy="5.5" rx="1.0" ry="1.0" fill="#767676" transform="rotate(0 25 5.5)" filter="url(#b05)"/><ellipse cx="1.5" cy="37.5" rx="1.0" ry="1.0" fill="#6e6e6e" transform="rotate(0 1.5 37.5)" filter="url(#b05)"/><path d="M33,19.5 C28.5,24 24.5,29.5 21.5,36.5" fill="none" stroke="#f8f8f8" stroke-width="3.6" stroke-linecap="round" stroke-linejoin="round" filter="url(#b1)"/><path d="M37.6,20.5 C33.5,27 29.5,32.5 26.2,37" fill="none" stroke="#d8d8d8" stroke-width="1.5" stroke-linecap="round" stroke-linejoin="round" filter="url(#b1)"/><path d="M40.5,7.5 C36.5,17 31,21.5 26,29.5 C22.5,35.5 19.5,41.5 16.5,47 C21,43 25.5,37.5 29.5,31.5 C33.5,25.5 38.5,18 40.5,7.5 Z" fill="#4c4c4c" filter="url(#b05)"/><path d="M40.4,8 C38.5,15 34,20.5 29,27.5 C25,33.5 21,41 17.5,46" fill="none" stroke="#3a3a3a" stroke-width="1.1" stroke-linecap="round" stroke-linejoin="round" filter="url(#b05)"/><path d="M16.2,46.4 L19.6,43.4 M17.2,46.5 L17.4,51.6" fill="none" stroke="#3c3c3c" stroke-width="1.3" stroke-linecap="round" stroke-linejoin="round" filter="url(#b05)"/>
</g></g>
<line x1="255.9" y1="787.6" x2="278.6" y2="787.6" stroke="#141414" stroke-width="1.6" />
<text x="208.6" y="815" font-size="12.2" text-anchor="start" font-family='"Liberation Sans", sans-serif' fill="#262626" >iv)</text>
<clipPath id="clip6"><rect x="224.8" y="804.3" width="56.9" height="56.9"/></clipPath>
<g clip-path="url(#clip6)">
<rect x="224.8" y="804.3" width="56.9" height="56.9" fill="rgb(133,133,133)"/>
<rect x="224.8" y="804.3" width="56.9" height="56.9" fill="#808080" filter="url(#noise)" opacity="0.14"/>
<g transform="translate(224.8,804.3)">
<path d="M25,12 Q27,15 27.5,18.5" fill="none" stroke="#a6a6a6" stroke-width="2.0" stroke-linecap="round" stroke-linejoin="round" filter="url(#b1)"/><path d="M40.5,21.5 L38,25.5" fill="none" stroke="#a6a6a6" stroke-width="1.8" stroke-linecap="round" stroke-linejoin="round" filter="url(#b1)"/><ellipse cx="17.5" cy="45.5" rx="1.0" ry="1.0" fill="#6a6a6a" transform="rotate(0 17.5 45.5)" filter="url(#b05)"/><path d="M22.5,24 Q28,28 33,30 Q39,31.5 43.6,32.4 Q40,36 40,43.1 Q35,39 28,35 Q25,33 24,31.6 Z" fill="#5a5a5a" filter="url(#b05)"/><ellipse cx="33.2" cy="33.6" rx="4.2" ry="2.3" fill="#494949" transform="rotate(15 33.2 33.6)" filter="url(#b05)"/><path d="M12.9,7.1 Q19,15 24,22 Q26,26 27.6,28" fill="none" stroke="#383838" stroke-width="1.8" stroke-linecap="round" stroke-linejoin="round" filter="url(#b05)"/><ellipse cx="13.1" cy="7.3" rx="1.3" ry="1.3" fill="#303030" transform="rotate(0 13.1 7.3)" filter="url(#b05)"/><path d="M26.7,25.3 Q33,30 40,31.6" fill="none" stroke="#f6f6f6" stroke-width="2.8" stroke-linecap="round" stroke-linejoin="round" filter="url(#b1)"/><path d="M24.9,33.3 Q30,38 35.6,41.3" fill="none" stroke="#ececec" stroke-width="2.6" stroke-linecap="round" stroke-linejoin="round" filter="url(#b1)"/><path d="M41,36 Q39.5,39 39.6,43" fill="none" stroke="#e6e6e6" stroke-width="2.0" stroke-linecap="round" stroke-linejoin="round" filter="url(#b1)"/><path d="M37.3,43.1 Q42,47.5 46.2,52" fill="none" stroke="#3a3a3a" stroke-width="1.2" stroke-linecap="round" stroke-linejoin="round" filter="url(#b05)"/>
</g></g>
<line x1="256.3" y1="858.6" x2="279" y2="858.6" stroke="#141414" stroke-width="1.6" />
<text x="544.6" y="746.6" font-size="12.2" text-anchor="start" font-family='"Liberation Sans", sans-serif' fill="#262626" >iii)</text>
<clipPath id="clip7"><rect x="559.8" y="736.8" width="56.9" height="56.4"/></clipPath>
<g clip-path="url(#clip7)">
<rect x="559.8" y="736.8" width="56.9" height="56.4" fill="rgb(128,128,128)"/>
<rect x="559.8" y="736.8" width="56.9" height="56.4" fill="#808080" filter="url(#noise)" opacity="0.14"/>
<g transform="translate(559.8,736.8)">
<path d="M34.7,22.2 L40,13.3" fill="none" stroke="#505050" stroke-width="1.0" stroke-linecap="round" stroke-linejoin="round" filter="url(#b05)"/><path d="M19.6,25.8 L13.3,28.4" fill="none" stroke="#666666" stroke-width="1.0" stroke-linecap="round" stroke-linejoin="round" filter="url(#b05)"/><path d="M21.3,28 Q28,31.5 33.8,32.2" fill="none" stroke="#e8e8e8" stroke-width="3.0" stroke-linecap="round" stroke-linejoin="round" filter="url(#b15)"/><path d="M20.4,23.6 Q27,19.6 33.8,22.2" fill="none" stroke="#f0f0f0" stroke-width="2.2" stroke-linecap="round" stroke-linejoin="round" filter="url(#b1)"/><path d="M35.6,24 Q37.5,27.5 37.3,31.1" fill="none" stroke="#e8e8e8" stroke-width="2.0" stroke-linecap="round" stroke-linejoin="round" filter="url(#b1)"/><ellipse cx="28.4" cy="25.0" rx="4.6" ry="1.7" fill="#3a3a3a" transform="rotate(8 28.4 25.0)" filter="url(#b1)"/><path d="M37.3,33.8 L38.2,39.1" fill="none" stroke="#5e5e5e" stroke-width="1.2" stroke-linecap="round" stroke-linejoin="round" filter="url(#b05)"/>
</g></g>
<line x1="590.9" y1="789.9" x2="614" y2="789.9" stroke="#141414" stroke-width="1.6" />
<text x="543.8" y="817.8" font-size="12.2" text-anchor="start" font-family='"Liberation Sans", sans-serif' fill="#262626" >iv)</text>
<clipPath id="clip8"><rect x="559.2" y="807.8" width="56.5" height="56.4"/></clipPath>
<g clip-path="url(#clip8)">
<rect x="559.2" y="807.8" width="56.5" height="56.4" fill="rgb(128,128,128)"/>
<rect x="559.2" y="807.8" width="56.5" height="56.4" fill="#808080" filter="url(#noise)" opacity="0.14"/>
<g transform="translate(559.2,807.8)">
<ellipse cx="18.5" cy="39" rx="2.5" ry="5.5" fill="#747474" transform="rotate(10 18.5 39)" filter="url(#b15)"/><ellipse cx="22.5" cy="25.5" rx="4.8" ry="4.6" fill="#d4d4d4" transform="rotate(0 22.5 25.5)" filter="url(#b2)"/><ellipse cx="27" cy="28.5" rx="4.5" ry="1.6" fill="#e0e0e0" transform="rotate(0 27 28.5)" filter="url(#b1)"/><path d="M28,17.8 L34.2,24" fill="none" stroke="#f0f0f0" stroke-width="1.8" stroke-linecap="round" stroke-linejoin="round" filter="url(#b1)"/><ellipse cx="26.2" cy="20.6" rx="3.4" ry="2.3" fill="#353535" transform="rotate(35 26.2 20.6)" filter="url(#b1)"/><ellipse cx="28.4" cy="14.7" rx="1.0" ry="1.0" fill="#3a3a3a" transform="rotate(0 28.4 14.7)" filter="url(#b05)"/><path d="M33.3,24.9 Q37,26.5 40.4,27.6 Q43,28.5 45.8,29.3 Q49,32 52,34.7" fill="none" stroke="#404040" stroke-width="1.2" stroke-linecap="round" stroke-linejoin="round" filter="url(#b05)"/>
</g></g>
<line x1="589.9" y1="860.4" x2="613" y2="860.4" stroke="#141414" stroke-width="1.6" />
</svg>
</body></html>
